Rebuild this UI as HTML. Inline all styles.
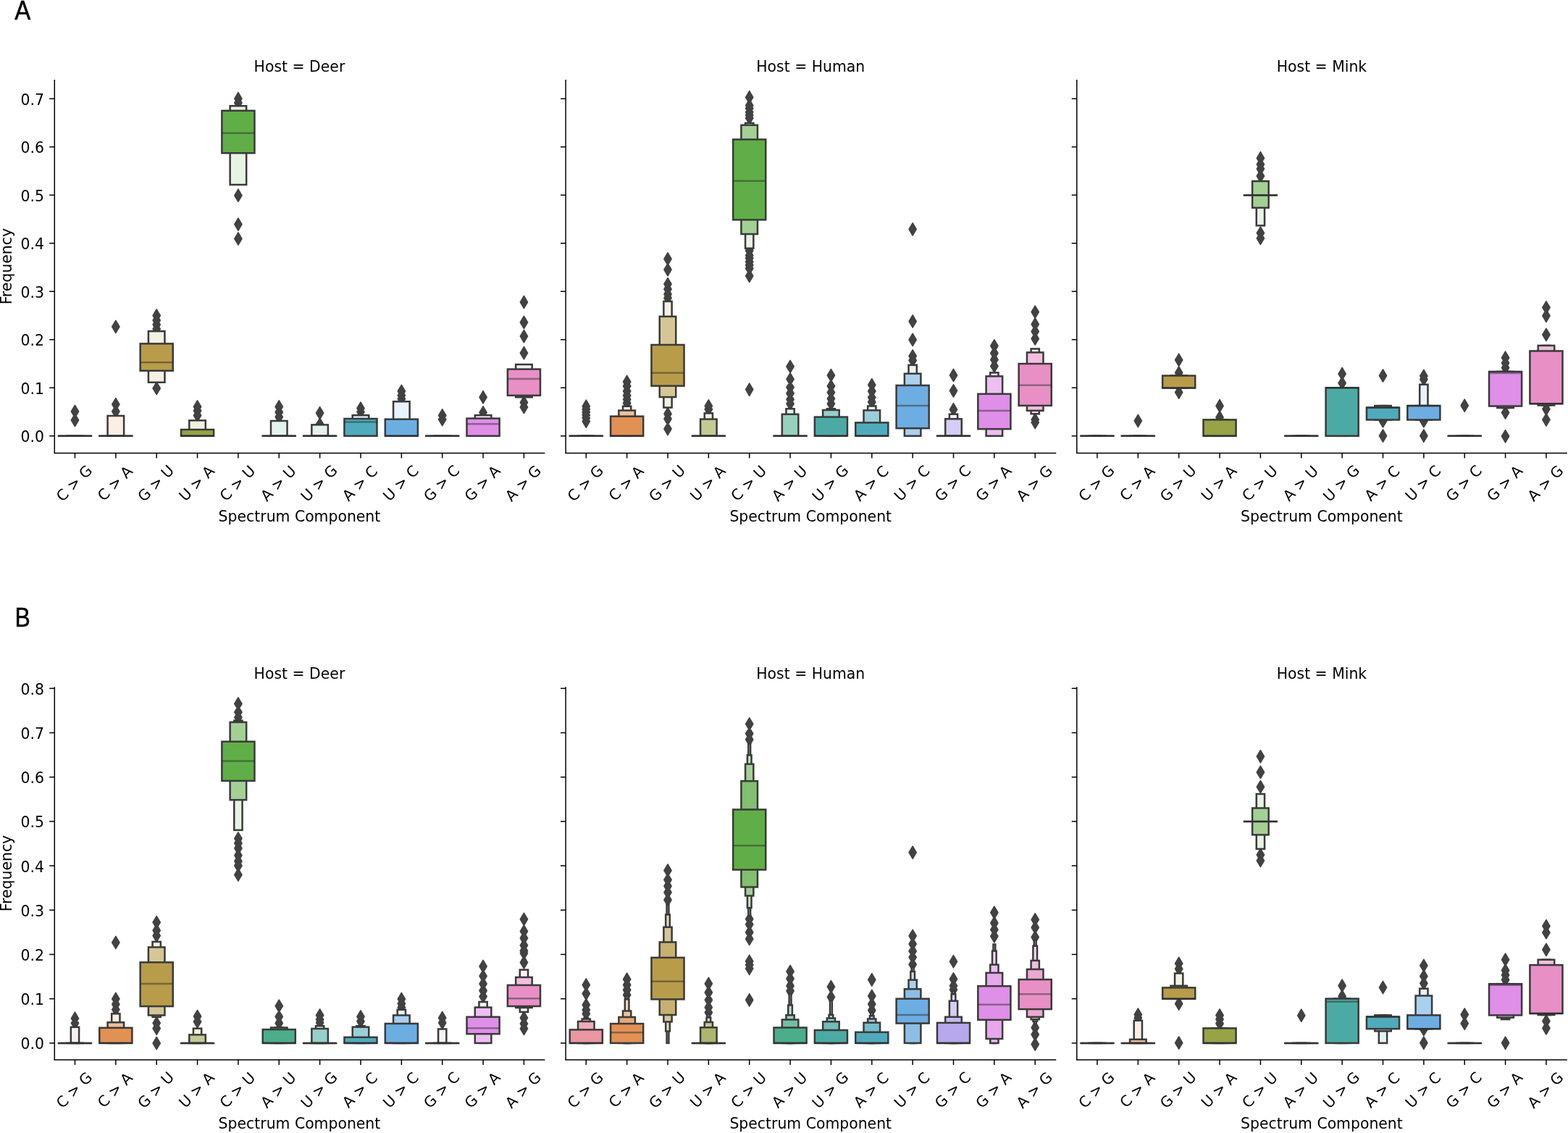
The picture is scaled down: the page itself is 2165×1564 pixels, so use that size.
<!DOCTYPE html>
<html><head><meta charset="utf-8"><title>Mutation spectrum boxen plots</title>
<style>
html,body{margin:0;padding:0;background:#fff;}
body{width:2165px;height:1564px;overflow:hidden;}
svg{display:block;}
.t{font-family:"DejaVu Sans","Liberation Sans",sans-serif;font-size:20.4px;fill:#000;}
.L{font-family:"Liberation Sans","DejaVu Sans",sans-serif;font-size:37.5px;fill:#000;stroke:#000;stroke-width:0.5px;}
.sp{stroke:#000;stroke-width:1.5;fill:none;}
</style></head><body>
<svg width="2165" height="1564" viewBox="0 0 2165 1564">
<rect width="2165" height="1564" fill="#fff"/>
<text transform="translate(20.3 26.9) scale(0.88 1)" class="L">A</text>
<text transform="translate(15.8 367.7) rotate(-90)" text-anchor="middle" class="t">Frequency</text>
<text x="413.45" y="98.6" text-anchor="middle" class="t">Host = Deer</text>
<text x="413.45" y="720.2" text-anchor="middle" class="t">Spectrum Component</text>
<path d="M103.48 559.4L108.58 568L103.48 576.6L98.38 568ZM103.48 571.4L108.58 580L103.48 588.6L98.38 580Z" fill="#424242" stroke="#424242" stroke-width="1.6" stroke-linejoin="round"/>
<line x1="92.21" x2="114.75" y1="601.8" y2="601.8" stroke="#3a3a3a" stroke-width="2.5" stroke-linecap="square"/>
<line x1="80.94" x2="126.02" y1="601.8" y2="601.8" stroke="#3a3a3a" stroke-width="2.5" stroke-linecap="square"/>
<line x1="80.94" x2="126.02" y1="601.8" y2="601.8" stroke="#262626" stroke-opacity="0.45" stroke-width="2.5"/>
<path d="M159.84 442.4L164.94 451L159.84 459.6L154.74 451ZM159.84 549.6L164.94 558.2L159.84 566.8L154.74 558.2ZM159.84 559.4L164.94 568L159.84 576.6L154.74 568Z" fill="#424242" stroke="#424242" stroke-width="1.6" stroke-linejoin="round"/>
<rect x="148.57" y="574" width="22.54" height="27.8" fill="#faeee5" stroke="#3a3a3a" stroke-width="2.5"/>
<line x1="137.29" x2="182.38" y1="601.8" y2="601.8" stroke="#3a3a3a" stroke-width="2.5" stroke-linecap="square"/>
<line x1="137.29" x2="182.38" y1="601.8" y2="601.8" stroke="#262626" stroke-opacity="0.45" stroke-width="2.5"/>
<path d="M216.2 427L221.3 435.6L216.2 444.2L211.1 435.6ZM216.2 433.5L221.3 442.1L216.2 450.7L211.1 442.1ZM216.2 439.5L221.3 448.1L216.2 456.7L211.1 448.1ZM216.2 445.5L221.3 454.1L216.2 462.7L211.1 454.1ZM216.2 527.4L221.3 536L216.2 544.6L211.1 536Z" fill="#424242" stroke="#424242" stroke-width="1.6" stroke-linejoin="round"/>
<rect x="204.92" y="457.2" width="22.54" height="70.6" fill="#f4f0e4" stroke="#3a3a3a" stroke-width="2.5"/>
<rect x="193.65" y="474.4" width="45.09" height="37.4" fill="#b89c49" stroke="#3a3a3a" stroke-width="2.5"/>
<line x1="193.65" x2="238.74" y1="500.3" y2="500.3" stroke="#262626" stroke-opacity="0.45" stroke-width="2.5"/>
<path d="M272.55 552.9L277.65 561.5L272.55 570.1L267.45 561.5ZM272.55 558.4L277.65 567L272.55 575.6L267.45 567ZM272.55 564.9L277.65 573.5L272.55 582.1L267.45 573.5Z" fill="#424242" stroke="#424242" stroke-width="1.6" stroke-linejoin="round"/>
<rect x="261.28" y="580.4" width="22.54" height="21.4" fill="#f0f1e3" stroke="#3a3a3a" stroke-width="2.5"/>
<rect x="250.01" y="593" width="45.09" height="8.8" fill="#98a246" stroke="#3a3a3a" stroke-width="2.5"/>
<line x1="250.01" x2="295.1" y1="601.8" y2="601.8" stroke="#262626" stroke-opacity="0.45" stroke-width="2.5"/>
<path d="M328.91 127.6L334.01 136.2L328.91 144.8L323.81 136.2ZM328.91 133.4L334.01 142L328.91 150.6L323.81 142ZM328.91 261.2L334.01 269.8L328.91 278.4L323.81 269.8ZM328.91 301.1L334.01 309.7L328.91 318.3L323.81 309.7ZM328.91 321L334.01 329.6L328.91 338.2L323.81 329.6Z" fill="#424242" stroke="#424242" stroke-width="1.6" stroke-linejoin="round"/>
<rect x="317.64" y="146.2" width="22.54" height="108.8" fill="#e7f3e3" stroke="#3a3a3a" stroke-width="2.5"/>
<rect x="306.37" y="152.8" width="45.09" height="58.5" fill="#60ae47" stroke="#3a3a3a" stroke-width="2.5"/>
<line x1="306.37" x2="351.46" y1="183.7" y2="183.7" stroke="#262626" stroke-opacity="0.45" stroke-width="2.5"/>
<path d="M385.27 552.9L390.37 561.5L385.27 570.1L380.17 561.5ZM385.27 560.4L390.37 569L385.27 577.6L380.17 569ZM385.27 566.9L390.37 575.5L385.27 584.1L380.17 575.5Z" fill="#424242" stroke="#424242" stroke-width="1.6" stroke-linejoin="round"/>
<rect x="374" y="581" width="22.54" height="20.8" fill="#e4f3ed" stroke="#3a3a3a" stroke-width="2.5"/>
<line x1="362.73" x2="407.81" y1="601.8" y2="601.8" stroke="#3a3a3a" stroke-width="2.5" stroke-linecap="square"/>
<line x1="362.73" x2="407.81" y1="601.8" y2="601.8" stroke="#262626" stroke-opacity="0.45" stroke-width="2.5"/>
<path d="M441.63 561.6L446.73 570.2L441.63 578.8L436.53 570.2ZM441.63 577.1L446.73 585.7L441.63 594.3L436.53 585.7Z" fill="#424242" stroke="#424242" stroke-width="1.6" stroke-linejoin="round"/>
<rect x="430.36" y="586.4" width="22.54" height="15.4" fill="#e4f2f1" stroke="#3a3a3a" stroke-width="2.5"/>
<line x1="419.09" x2="464.17" y1="601.8" y2="601.8" stroke="#3a3a3a" stroke-width="2.5" stroke-linecap="square"/>
<line x1="419.09" x2="464.17" y1="601.8" y2="601.8" stroke="#262626" stroke-opacity="0.45" stroke-width="2.5"/>
<path d="M497.99 555.1L503.09 563.7L497.99 572.3L492.89 563.7ZM497.99 560L503.09 568.6L497.99 577.2L492.89 568.6Z" fill="#424242" stroke="#424242" stroke-width="1.6" stroke-linejoin="round"/>
<rect x="486.72" y="573.2" width="22.54" height="28.6" fill="#e5f2f5" stroke="#3a3a3a" stroke-width="2.5"/>
<rect x="475.44" y="578" width="45.09" height="23.8" fill="#4fabbc" stroke="#3a3a3a" stroke-width="2.5"/>
<line x1="475.44" x2="520.53" y1="582.4" y2="582.4" stroke="#262626" stroke-opacity="0.45" stroke-width="2.5"/>
<path d="M554.35 531.4L559.45 540L554.35 548.6L549.25 540ZM554.35 537.2L559.45 545.8L554.35 554.4L549.25 545.8ZM554.35 542.1L559.45 550.7L554.35 559.3L549.25 550.7Z" fill="#424242" stroke="#424242" stroke-width="1.6" stroke-linejoin="round"/>
<rect x="543.07" y="554.3" width="22.54" height="47.5" fill="#e9f3fb" stroke="#3a3a3a" stroke-width="2.5"/>
<rect x="531.8" y="578.7" width="45.09" height="23.1" fill="#6daee2" stroke="#3a3a3a" stroke-width="2.5"/>
<line x1="531.8" x2="576.89" y1="601.8" y2="601.8" stroke="#262626" stroke-opacity="0.45" stroke-width="2.5"/>
<path d="M610.7 564.9L615.8 573.5L610.7 582.1L605.6 573.5ZM610.7 570.4L615.8 579L610.7 587.6L605.6 579Z" fill="#424242" stroke="#424242" stroke-width="1.6" stroke-linejoin="round"/>
<line x1="599.43" x2="621.98" y1="601.8" y2="601.8" stroke="#3a3a3a" stroke-width="2.5" stroke-linecap="square"/>
<line x1="588.16" x2="633.25" y1="601.8" y2="601.8" stroke="#3a3a3a" stroke-width="2.5" stroke-linecap="square"/>
<line x1="588.16" x2="633.25" y1="601.8" y2="601.8" stroke="#262626" stroke-opacity="0.45" stroke-width="2.5"/>
<path d="M667.06 539.7L672.16 548.3L667.06 556.9L661.96 548.3ZM667.06 560.8L672.16 569.4L667.06 578L661.96 569.4Z" fill="#424242" stroke="#424242" stroke-width="1.6" stroke-linejoin="round"/>
<rect x="655.79" y="573.2" width="22.54" height="28.6" fill="#faeefb" stroke="#3a3a3a" stroke-width="2.5"/>
<rect x="644.52" y="577.6" width="45.09" height="24.2" fill="#df8fe7" stroke="#3a3a3a" stroke-width="2.5"/>
<line x1="644.52" x2="689.61" y1="585.2" y2="585.2" stroke="#262626" stroke-opacity="0.45" stroke-width="2.5"/>
<path d="M723.42 408.5L728.52 417.1L723.42 425.7L718.32 417.1ZM723.42 436.4L728.52 445L723.42 453.6L718.32 445ZM723.42 455.6L728.52 464.2L723.42 472.8L718.32 464.2ZM723.42 478.7L728.52 487.3L723.42 495.9L718.32 487.3ZM723.42 547L728.52 555.6L723.42 564.2L718.32 555.6ZM723.42 553.4L728.52 562L723.42 570.6L718.32 562Z" fill="#424242" stroke="#424242" stroke-width="1.6" stroke-linejoin="round"/>
<rect x="712.15" y="503.1" width="22.54" height="45.2" fill="#fceef6" stroke="#3a3a3a" stroke-width="2.5"/>
<rect x="700.88" y="509.6" width="45.09" height="36.3" fill="#e890c6" stroke="#3a3a3a" stroke-width="2.5"/>
<line x1="700.88" x2="745.96" y1="523.1" y2="523.1" stroke="#262626" stroke-opacity="0.45" stroke-width="2.5"/>
<line x1="75.3" y1="110.1" x2="75.3" y2="625.4" class="sp"/>
<line x1="74.5" y1="625.4" x2="752.4" y2="625.4" class="sp"/>
<line x1="68.2" x2="75.3" y1="601.8" y2="601.8" class="sp"/>
<text x="60.9" y="610.2" text-anchor="end" class="t">0.0</text>
<line x1="68.2" x2="75.3" y1="535.3" y2="535.3" class="sp"/>
<text x="60.9" y="543.7" text-anchor="end" class="t">0.1</text>
<line x1="68.2" x2="75.3" y1="468.8" y2="468.8" class="sp"/>
<text x="60.9" y="477.2" text-anchor="end" class="t">0.2</text>
<line x1="68.2" x2="75.3" y1="402.3" y2="402.3" class="sp"/>
<text x="60.9" y="410.7" text-anchor="end" class="t">0.3</text>
<line x1="68.2" x2="75.3" y1="335.8" y2="335.8" class="sp"/>
<text x="60.9" y="344.2" text-anchor="end" class="t">0.4</text>
<line x1="68.2" x2="75.3" y1="269.3" y2="269.3" class="sp"/>
<text x="60.9" y="277.7" text-anchor="end" class="t">0.5</text>
<line x1="68.2" x2="75.3" y1="202.8" y2="202.8" class="sp"/>
<text x="60.9" y="211.2" text-anchor="end" class="t">0.6</text>
<line x1="68.2" x2="75.3" y1="136.3" y2="136.3" class="sp"/>
<text x="60.9" y="144.7" text-anchor="end" class="t">0.7</text>
<line x1="103.48" x2="103.48" y1="625.4" y2="632.5" class="sp"/>
<text transform="translate(102.18 666.9) rotate(-45)" x="0" y="7.45" text-anchor="middle" class="t">C &gt; G</text>
<line x1="159.84" x2="159.84" y1="625.4" y2="632.5" class="sp"/>
<text transform="translate(158.54 666.9) rotate(-45)" x="0" y="7.45" text-anchor="middle" class="t">C &gt; A</text>
<line x1="216.2" x2="216.2" y1="625.4" y2="632.5" class="sp"/>
<text transform="translate(214.9 666.9) rotate(-45)" x="0" y="7.45" text-anchor="middle" class="t">G &gt; U</text>
<line x1="272.55" x2="272.55" y1="625.4" y2="632.5" class="sp"/>
<text transform="translate(271.25 666.9) rotate(-45)" x="0" y="7.45" text-anchor="middle" class="t">U &gt; A</text>
<line x1="328.91" x2="328.91" y1="625.4" y2="632.5" class="sp"/>
<text transform="translate(327.61 666.9) rotate(-45)" x="0" y="7.45" text-anchor="middle" class="t">C &gt; U</text>
<line x1="385.27" x2="385.27" y1="625.4" y2="632.5" class="sp"/>
<text transform="translate(383.97 666.9) rotate(-45)" x="0" y="7.45" text-anchor="middle" class="t">A &gt; U</text>
<line x1="441.63" x2="441.63" y1="625.4" y2="632.5" class="sp"/>
<text transform="translate(440.33 666.9) rotate(-45)" x="0" y="7.45" text-anchor="middle" class="t">U &gt; G</text>
<line x1="497.99" x2="497.99" y1="625.4" y2="632.5" class="sp"/>
<text transform="translate(496.69 666.9) rotate(-45)" x="0" y="7.45" text-anchor="middle" class="t">A &gt; C</text>
<line x1="554.35" x2="554.35" y1="625.4" y2="632.5" class="sp"/>
<text transform="translate(553.05 666.9) rotate(-45)" x="0" y="7.45" text-anchor="middle" class="t">U &gt; C</text>
<line x1="610.7" x2="610.7" y1="625.4" y2="632.5" class="sp"/>
<text transform="translate(609.4 666.9) rotate(-45)" x="0" y="7.45" text-anchor="middle" class="t">G &gt; C</text>
<line x1="667.06" x2="667.06" y1="625.4" y2="632.5" class="sp"/>
<text transform="translate(665.76 666.9) rotate(-45)" x="0" y="7.45" text-anchor="middle" class="t">G &gt; A</text>
<line x1="723.42" x2="723.42" y1="625.4" y2="632.5" class="sp"/>
<text transform="translate(722.12 666.9) rotate(-45)" x="0" y="7.45" text-anchor="middle" class="t">A &gt; G</text>
<text x="1119.25" y="98.6" text-anchor="middle" class="t">Host = Human</text>
<text x="1119.25" y="720.2" text-anchor="middle" class="t">Spectrum Component</text>
<path d="M809.28 552.2L814.38 560.8L809.28 569.4L804.18 560.8ZM809.28 556.4L814.38 565L809.28 573.6L804.18 565ZM809.28 560.4L814.38 569L809.28 577.6L804.18 569ZM809.28 564.4L814.38 573L809.28 581.6L804.18 573ZM809.28 568.4L814.38 577L809.28 585.6L804.18 577ZM809.28 573.1L814.38 581.7L809.28 590.3L804.18 581.7Z" fill="#424242" stroke="#424242" stroke-width="1.6" stroke-linejoin="round"/>
<line x1="803.64" x2="814.92" y1="601.8" y2="601.8" stroke="#3a3a3a" stroke-width="2.5" stroke-linecap="square"/>
<line x1="798.01" x2="820.55" y1="601.8" y2="601.8" stroke="#3a3a3a" stroke-width="2.5" stroke-linecap="square"/>
<line x1="786.74" x2="831.82" y1="601.8" y2="601.8" stroke="#3a3a3a" stroke-width="2.5" stroke-linecap="square"/>
<line x1="786.74" x2="831.82" y1="601.8" y2="601.8" stroke="#262626" stroke-opacity="0.45" stroke-width="2.5"/>
<path d="M865.64 518.4L870.74 527L865.64 535.6L860.54 527ZM865.64 524.4L870.74 533L865.64 541.6L860.54 533ZM865.64 531.4L870.74 540L865.64 548.6L860.54 540ZM865.64 537.4L870.74 546L865.64 554.6L860.54 546ZM865.64 542.7L870.74 551.3L865.64 559.9L860.54 551.3ZM865.64 547.9L870.74 556.5L865.64 565.1L860.54 556.5Z" fill="#424242" stroke="#424242" stroke-width="1.6" stroke-linejoin="round"/>
<rect x="860" y="560.8" width="11.27" height="41" fill="#faeee5" stroke="#3a3a3a" stroke-width="2.5"/>
<rect x="854.37" y="566.6" width="22.54" height="35.2" fill="#eec09c" stroke="#3a3a3a" stroke-width="2.5"/>
<rect x="843.09" y="574.7" width="45.09" height="27.1" fill="#e19153" stroke="#3a3a3a" stroke-width="2.5"/>
<line x1="843.09" x2="888.18" y1="601.8" y2="601.8" stroke="#262626" stroke-opacity="0.45" stroke-width="2.5"/>
<path d="M922 348.8L927.1 357.4L922 366L916.9 357.4ZM922 363.6L927.1 372.2L922 380.8L916.9 372.2ZM922 383.6L927.1 392.2L922 400.8L916.9 392.2ZM922 390.5L927.1 399.1L922 407.7L916.9 399.1ZM922 397.5L927.1 406.1L922 414.7L916.9 406.1ZM922 402.7L927.1 411.3L922 419.9L916.9 411.3ZM922 562.7L927.1 571.3L922 579.9L916.9 571.3ZM922 569.6L927.1 578.2L922 586.8L916.9 578.2ZM922 583.5L927.1 592.1L922 600.7L916.9 592.1Z" fill="#424242" stroke="#424242" stroke-width="1.6" stroke-linejoin="round"/>
<rect x="916.36" y="416" width="11.27" height="146.6" fill="#f4f0e4" stroke="#3a3a3a" stroke-width="2.5"/>
<rect x="910.72" y="436.9" width="22.54" height="111.2" fill="#d6c696" stroke="#3a3a3a" stroke-width="2.5"/>
<rect x="899.45" y="476" width="45.09" height="56.7" fill="#b89c49" stroke="#3a3a3a" stroke-width="2.5"/>
<line x1="899.45" x2="944.54" y1="514.8" y2="514.8" stroke="#262626" stroke-opacity="0.45" stroke-width="2.5"/>
<path d="M978.35 551.9L983.45 560.5L978.35 569.1L973.25 560.5ZM978.35 556.4L983.45 565L978.35 573.6L973.25 565Z" fill="#424242" stroke="#424242" stroke-width="1.6" stroke-linejoin="round"/>
<rect x="972.72" y="570.4" width="11.27" height="31.4" fill="#f0f1e3" stroke="#3a3a3a" stroke-width="2.5"/>
<rect x="967.08" y="578.6" width="22.54" height="23.2" fill="#c4ca95" stroke="#3a3a3a" stroke-width="2.5"/>
<line x1="955.81" x2="1000.9" y1="601.8" y2="601.8" stroke="#3a3a3a" stroke-width="2.5" stroke-linecap="square"/>
<line x1="955.81" x2="1000.9" y1="601.8" y2="601.8" stroke="#262626" stroke-opacity="0.45" stroke-width="2.5"/>
<path d="M1034.71 125.7L1039.81 134.3L1034.71 142.9L1029.61 134.3ZM1034.71 137L1039.81 145.6L1034.71 154.2L1029.61 145.6ZM1034.71 141.1L1039.81 149.7L1034.71 158.3L1029.61 149.7ZM1034.71 146.2L1039.81 154.8L1034.71 163.4L1029.61 154.8ZM1034.71 150.3L1039.81 158.9L1034.71 167.5L1029.61 158.9ZM1034.71 154.4L1039.81 163L1034.71 171.6L1029.61 163ZM1034.71 337.4L1039.81 346L1034.71 354.6L1029.61 346ZM1034.71 344L1039.81 352.6L1034.71 361.2L1029.61 352.6ZM1034.71 347.9L1039.81 356.5L1034.71 365.1L1029.61 356.5ZM1034.71 352.9L1039.81 361.5L1034.71 370.1L1029.61 361.5ZM1034.71 357.4L1039.81 366L1034.71 374.6L1029.61 366ZM1034.71 361.9L1039.81 370.5L1034.71 379.1L1029.61 370.5ZM1034.71 372.3L1039.81 380.9L1034.71 389.5L1029.61 380.9ZM1034.71 529.1L1039.81 537.7L1034.71 546.3L1029.61 537.7Z" fill="#424242" stroke="#424242" stroke-width="1.6" stroke-linejoin="round"/>
<rect x="1029.08" y="169.9" width="11.27" height="172.9" fill="#e7f3e3" stroke="#3a3a3a" stroke-width="2.5"/>
<rect x="1023.44" y="172.7" width="22.54" height="150.4" fill="#a4d095" stroke="#3a3a3a" stroke-width="2.5"/>
<rect x="1012.17" y="192.5" width="45.09" height="110.9" fill="#60ae47" stroke="#3a3a3a" stroke-width="2.5"/>
<line x1="1012.17" x2="1057.26" y1="249.7" y2="249.7" stroke="#262626" stroke-opacity="0.45" stroke-width="2.5"/>
<path d="M1091.07 497.4L1096.17 506L1091.07 514.6L1085.97 506ZM1091.07 514.8L1096.17 523.4L1091.07 532L1085.97 523.4ZM1091.07 526.1L1096.17 534.7L1091.07 543.3L1085.97 534.7ZM1091.07 534.4L1096.17 543L1091.07 551.6L1085.97 543ZM1091.07 542.7L1096.17 551.3L1091.07 559.9L1085.97 551.3ZM1091.07 548.8L1096.17 557.4L1091.07 566L1085.97 557.4Z" fill="#424242" stroke="#424242" stroke-width="1.6" stroke-linejoin="round"/>
<rect x="1085.43" y="564.3" width="11.27" height="37.5" fill="#e4f3ed" stroke="#3a3a3a" stroke-width="2.5"/>
<rect x="1079.8" y="571.8" width="22.54" height="30" fill="#97d0bc" stroke="#3a3a3a" stroke-width="2.5"/>
<line x1="1068.53" x2="1113.61" y1="601.8" y2="601.8" stroke="#3a3a3a" stroke-width="2.5" stroke-linecap="square"/>
<line x1="1068.53" x2="1113.61" y1="601.8" y2="601.8" stroke="#262626" stroke-opacity="0.45" stroke-width="2.5"/>
<path d="M1147.43 509.6L1152.53 518.2L1147.43 526.8L1142.33 518.2ZM1147.43 524.4L1152.53 533L1147.43 541.6L1142.33 533ZM1147.43 533.1L1152.53 541.7L1147.43 550.3L1142.33 541.7ZM1147.43 541.8L1152.53 550.4L1147.43 559L1142.33 550.4ZM1147.43 548.8L1152.53 557.4L1147.43 566L1142.33 557.4Z" fill="#424242" stroke="#424242" stroke-width="1.6" stroke-linejoin="round"/>
<rect x="1141.79" y="564.3" width="11.27" height="37.5" fill="#e4f2f1" stroke="#3a3a3a" stroke-width="2.5"/>
<rect x="1136.16" y="566" width="22.54" height="35.8" fill="#98cfcb" stroke="#3a3a3a" stroke-width="2.5"/>
<rect x="1124.89" y="575.6" width="45.09" height="26.2" fill="#4baba4" stroke="#3a3a3a" stroke-width="2.5"/>
<line x1="1124.89" x2="1169.97" y1="601.8" y2="601.8" stroke="#262626" stroke-opacity="0.45" stroke-width="2.5"/>
<path d="M1203.79 522.7L1208.89 531.3L1203.79 539.9L1198.69 531.3ZM1203.79 531.4L1208.89 540L1203.79 548.6L1198.69 540ZM1203.79 540.1L1208.89 548.7L1203.79 557.3L1198.69 548.7ZM1203.79 546.4L1208.89 555L1203.79 563.6L1198.69 555Z" fill="#424242" stroke="#424242" stroke-width="1.6" stroke-linejoin="round"/>
<rect x="1198.15" y="560.5" width="11.27" height="41.3" fill="#e5f2f5" stroke="#3a3a3a" stroke-width="2.5"/>
<rect x="1192.52" y="566.4" width="22.54" height="35.4" fill="#9acfd8" stroke="#3a3a3a" stroke-width="2.5"/>
<rect x="1181.24" y="583.4" width="45.09" height="18.4" fill="#4fabbc" stroke="#3a3a3a" stroke-width="2.5"/>
<line x1="1181.24" x2="1226.33" y1="601.8" y2="601.8" stroke="#262626" stroke-opacity="0.45" stroke-width="2.5"/>
<path d="M1260.15 307.8L1265.25 316.4L1260.15 325L1255.05 316.4ZM1260.15 435L1265.25 443.6L1260.15 452.2L1255.05 443.6ZM1260.15 460.4L1265.25 469L1260.15 477.6L1255.05 469ZM1260.15 482.9L1265.25 491.5L1260.15 500.1L1255.05 491.5ZM1260.15 488.9L1265.25 497.5L1260.15 506.1L1255.05 497.5Z" fill="#424242" stroke="#424242" stroke-width="1.6" stroke-linejoin="round"/>
<rect x="1254.51" y="503.9" width="11.27" height="97.9" fill="#e9f3fb" stroke="#3a3a3a" stroke-width="2.5"/>
<rect x="1248.87" y="515.8" width="22.54" height="86" fill="#abd0ee" stroke="#3a3a3a" stroke-width="2.5"/>
<rect x="1237.6" y="532" width="45.09" height="59.2" fill="#6daee2" stroke="#3a3a3a" stroke-width="2.5"/>
<line x1="1237.6" x2="1282.69" y1="559.9" y2="559.9" stroke="#262626" stroke-opacity="0.45" stroke-width="2.5"/>
<path d="M1316.5 509.4L1321.6 518L1316.5 526.6L1311.4 518ZM1316.5 530.8L1321.6 539.4L1316.5 548L1311.4 539.4ZM1316.5 556.7L1321.6 565.3L1316.5 573.9L1311.4 565.3Z" fill="#424242" stroke="#424242" stroke-width="1.6" stroke-linejoin="round"/>
<rect x="1310.87" y="571.7" width="11.27" height="30.1" fill="#f4f2fc" stroke="#3a3a3a" stroke-width="2.5"/>
<rect x="1305.23" y="578.3" width="22.54" height="23.5" fill="#d5cdf4" stroke="#3a3a3a" stroke-width="2.5"/>
<line x1="1293.96" x2="1339.05" y1="601.8" y2="601.8" stroke="#3a3a3a" stroke-width="2.5" stroke-linecap="square"/>
<line x1="1293.96" x2="1339.05" y1="601.8" y2="601.8" stroke="#262626" stroke-opacity="0.45" stroke-width="2.5"/>
<path d="M1372.86 468.9L1377.96 477.5L1372.86 486.1L1367.76 477.5ZM1372.86 478.9L1377.96 487.5L1372.86 496.1L1367.76 487.5ZM1372.86 487.9L1377.96 496.5L1372.86 505.1L1367.76 496.5ZM1372.86 496.9L1377.96 505.5L1372.86 514.1L1367.76 505.5Z" fill="#424242" stroke="#424242" stroke-width="1.6" stroke-linejoin="round"/>
<rect x="1367.23" y="514.4" width="11.27" height="87.4" fill="#faeefb" stroke="#3a3a3a" stroke-width="2.5"/>
<rect x="1361.59" y="519.4" width="22.54" height="82.4" fill="#edbff1" stroke="#3a3a3a" stroke-width="2.5"/>
<rect x="1350.32" y="543.8" width="45.09" height="48.4" fill="#df8fe7" stroke="#3a3a3a" stroke-width="2.5"/>
<line x1="1350.32" x2="1395.41" y1="566.9" y2="566.9" stroke="#262626" stroke-opacity="0.45" stroke-width="2.5"/>
<path d="M1429.22 422.1L1434.32 430.7L1429.22 439.3L1424.12 430.7ZM1429.22 439L1434.32 447.6L1429.22 456.2L1424.12 447.6ZM1429.22 449L1434.32 457.6L1429.22 466.2L1424.12 457.6ZM1429.22 459L1434.32 467.6L1429.22 476.2L1424.12 467.6ZM1429.22 570.7L1434.32 579.3L1429.22 587.9L1424.12 579.3ZM1429.22 574.4L1434.32 583L1429.22 591.6L1424.12 583Z" fill="#424242" stroke="#424242" stroke-width="1.6" stroke-linejoin="round"/>
<rect x="1423.59" y="481.5" width="11.27" height="89.8" fill="#fceef6" stroke="#3a3a3a" stroke-width="2.5"/>
<rect x="1417.95" y="486.5" width="22.54" height="80.4" fill="#f2bfde" stroke="#3a3a3a" stroke-width="2.5"/>
<rect x="1406.68" y="502.1" width="45.09" height="57.8" fill="#e890c6" stroke="#3a3a3a" stroke-width="2.5"/>
<line x1="1406.68" x2="1451.76" y1="531.8" y2="531.8" stroke="#262626" stroke-opacity="0.45" stroke-width="2.5"/>
<line x1="781.1" y1="110.1" x2="781.1" y2="625.4" class="sp"/>
<line x1="780.3" y1="625.4" x2="1458.2" y2="625.4" class="sp"/>
<line x1="774" x2="781.1" y1="601.8" y2="601.8" class="sp"/>
<line x1="774" x2="781.1" y1="535.3" y2="535.3" class="sp"/>
<line x1="774" x2="781.1" y1="468.8" y2="468.8" class="sp"/>
<line x1="774" x2="781.1" y1="402.3" y2="402.3" class="sp"/>
<line x1="774" x2="781.1" y1="335.8" y2="335.8" class="sp"/>
<line x1="774" x2="781.1" y1="269.3" y2="269.3" class="sp"/>
<line x1="774" x2="781.1" y1="202.8" y2="202.8" class="sp"/>
<line x1="774" x2="781.1" y1="136.3" y2="136.3" class="sp"/>
<line x1="809.28" x2="809.28" y1="625.4" y2="632.5" class="sp"/>
<text transform="translate(807.98 666.9) rotate(-45)" x="0" y="7.45" text-anchor="middle" class="t">C &gt; G</text>
<line x1="865.64" x2="865.64" y1="625.4" y2="632.5" class="sp"/>
<text transform="translate(864.34 666.9) rotate(-45)" x="0" y="7.45" text-anchor="middle" class="t">C &gt; A</text>
<line x1="922" x2="922" y1="625.4" y2="632.5" class="sp"/>
<text transform="translate(920.7 666.9) rotate(-45)" x="0" y="7.45" text-anchor="middle" class="t">G &gt; U</text>
<line x1="978.35" x2="978.35" y1="625.4" y2="632.5" class="sp"/>
<text transform="translate(977.05 666.9) rotate(-45)" x="0" y="7.45" text-anchor="middle" class="t">U &gt; A</text>
<line x1="1034.71" x2="1034.71" y1="625.4" y2="632.5" class="sp"/>
<text transform="translate(1033.41 666.9) rotate(-45)" x="0" y="7.45" text-anchor="middle" class="t">C &gt; U</text>
<line x1="1091.07" x2="1091.07" y1="625.4" y2="632.5" class="sp"/>
<text transform="translate(1089.77 666.9) rotate(-45)" x="0" y="7.45" text-anchor="middle" class="t">A &gt; U</text>
<line x1="1147.43" x2="1147.43" y1="625.4" y2="632.5" class="sp"/>
<text transform="translate(1146.13 666.9) rotate(-45)" x="0" y="7.45" text-anchor="middle" class="t">U &gt; G</text>
<line x1="1203.79" x2="1203.79" y1="625.4" y2="632.5" class="sp"/>
<text transform="translate(1202.49 666.9) rotate(-45)" x="0" y="7.45" text-anchor="middle" class="t">A &gt; C</text>
<line x1="1260.15" x2="1260.15" y1="625.4" y2="632.5" class="sp"/>
<text transform="translate(1258.85 666.9) rotate(-45)" x="0" y="7.45" text-anchor="middle" class="t">U &gt; C</text>
<line x1="1316.5" x2="1316.5" y1="625.4" y2="632.5" class="sp"/>
<text transform="translate(1315.2 666.9) rotate(-45)" x="0" y="7.45" text-anchor="middle" class="t">G &gt; C</text>
<line x1="1372.86" x2="1372.86" y1="625.4" y2="632.5" class="sp"/>
<text transform="translate(1371.56 666.9) rotate(-45)" x="0" y="7.45" text-anchor="middle" class="t">G &gt; A</text>
<line x1="1429.22" x2="1429.22" y1="625.4" y2="632.5" class="sp"/>
<text transform="translate(1427.92 666.9) rotate(-45)" x="0" y="7.45" text-anchor="middle" class="t">A &gt; G</text>
<text x="1824.95" y="98.6" text-anchor="middle" class="t">Host = Mink</text>
<text x="1824.95" y="720.2" text-anchor="middle" class="t">Spectrum Component</text>
<line x1="1509.34" x2="1520.61" y1="601.8" y2="601.8" stroke="#3a3a3a" stroke-width="2.5" stroke-linecap="square"/>
<line x1="1503.71" x2="1526.25" y1="601.8" y2="601.8" stroke="#3a3a3a" stroke-width="2.5" stroke-linecap="square"/>
<line x1="1492.44" x2="1537.52" y1="601.8" y2="601.8" stroke="#3a3a3a" stroke-width="2.5" stroke-linecap="square"/>
<line x1="1492.44" x2="1537.52" y1="601.8" y2="601.8" stroke="#262626" stroke-opacity="0.45" stroke-width="2.5"/>
<path d="M1571.34 572.3L1576.44 580.9L1571.34 589.5L1566.24 580.9Z" fill="#424242" stroke="#424242" stroke-width="1.6" stroke-linejoin="round"/>
<line x1="1565.7" x2="1576.97" y1="601.8" y2="601.8" stroke="#3a3a3a" stroke-width="2.5" stroke-linecap="square"/>
<line x1="1560.07" x2="1582.61" y1="601.8" y2="601.8" stroke="#3a3a3a" stroke-width="2.5" stroke-linecap="square"/>
<line x1="1548.79" x2="1593.88" y1="601.8" y2="601.8" stroke="#3a3a3a" stroke-width="2.5" stroke-linecap="square"/>
<line x1="1548.79" x2="1593.88" y1="601.8" y2="601.8" stroke="#262626" stroke-opacity="0.45" stroke-width="2.5"/>
<path d="M1627.7 488.3L1632.8 496.9L1627.7 505.5L1622.6 496.9ZM1627.7 506L1632.8 514.6L1627.7 523.2L1622.6 514.6ZM1627.7 533L1632.8 541.6L1627.7 550.2L1622.6 541.6Z" fill="#424242" stroke="#424242" stroke-width="1.6" stroke-linejoin="round"/>
<rect x="1622.06" y="518.6" width="11.27" height="17" fill="#f4f0e4" stroke="#3a3a3a" stroke-width="2.5"/>
<rect x="1616.42" y="518.6" width="22.54" height="17" fill="#d6c696" stroke="#3a3a3a" stroke-width="2.5"/>
<rect x="1605.15" y="518.6" width="45.09" height="17" fill="#b89c49" stroke="#3a3a3a" stroke-width="2.5"/>
<line x1="1605.15" x2="1650.24" y1="535.6" y2="535.6" stroke="#262626" stroke-opacity="0.45" stroke-width="2.5"/>
<path d="M1684.05 551.7L1689.15 560.3L1684.05 568.9L1678.95 560.3ZM1684.05 567.5L1689.15 576.1L1684.05 584.7L1678.95 576.1Z" fill="#424242" stroke="#424242" stroke-width="1.6" stroke-linejoin="round"/>
<rect x="1678.42" y="579.4" width="11.27" height="22.4" fill="#f0f1e3" stroke="#3a3a3a" stroke-width="2.5"/>
<rect x="1672.78" y="579.4" width="22.54" height="22.4" fill="#c4ca95" stroke="#3a3a3a" stroke-width="2.5"/>
<rect x="1661.51" y="579.4" width="45.09" height="22.4" fill="#98a246" stroke="#3a3a3a" stroke-width="2.5"/>
<line x1="1661.51" x2="1706.6" y1="601.8" y2="601.8" stroke="#262626" stroke-opacity="0.45" stroke-width="2.5"/>
<path d="M1740.41 209.7L1745.51 218.3L1740.41 226.9L1735.31 218.3ZM1740.41 218.2L1745.51 226.8L1740.41 235.4L1735.31 226.8ZM1740.41 224.5L1745.51 233.1L1740.41 241.7L1735.31 233.1ZM1740.41 234.4L1745.51 243L1740.41 251.6L1735.31 243ZM1740.41 313.1L1745.51 321.7L1740.41 330.3L1735.31 321.7ZM1740.41 320.3L1745.51 328.9L1740.41 337.5L1735.31 328.9Z" fill="#424242" stroke="#424242" stroke-width="1.6" stroke-linejoin="round"/>
<rect x="1734.78" y="250.1" width="11.27" height="61.3" fill="#e7f3e3" stroke="#3a3a3a" stroke-width="2.5"/>
<rect x="1729.14" y="250.1" width="22.54" height="36.7" fill="#a4d095" stroke="#3a3a3a" stroke-width="2.5"/>
<line x1="1717.87" x2="1762.96" y1="269.4" y2="269.4" stroke="#3a3a3a" stroke-width="2.5" stroke-linecap="square"/>
<line x1="1717.87" x2="1762.96" y1="269.4" y2="269.4" stroke="#262626" stroke-opacity="0.45" stroke-width="2.5"/>
<line x1="1791.13" x2="1802.41" y1="601.8" y2="601.8" stroke="#3a3a3a" stroke-width="2.5" stroke-linecap="square"/>
<line x1="1785.5" x2="1808.04" y1="601.8" y2="601.8" stroke="#3a3a3a" stroke-width="2.5" stroke-linecap="square"/>
<line x1="1774.23" x2="1819.31" y1="601.8" y2="601.8" stroke="#3a3a3a" stroke-width="2.5" stroke-linecap="square"/>
<line x1="1774.23" x2="1819.31" y1="601.8" y2="601.8" stroke="#262626" stroke-opacity="0.45" stroke-width="2.5"/>
<path d="M1853.13 507.5L1858.23 516.1L1853.13 524.7L1848.03 516.1ZM1853.13 520.2L1858.23 528.8L1853.13 537.4L1848.03 528.8Z" fill="#424242" stroke="#424242" stroke-width="1.6" stroke-linejoin="round"/>
<rect x="1847.49" y="535.3" width="11.27" height="66.5" fill="#e4f2f1" stroke="#3a3a3a" stroke-width="2.5"/>
<rect x="1841.86" y="535.3" width="22.54" height="66.5" fill="#98cfcb" stroke="#3a3a3a" stroke-width="2.5"/>
<rect x="1830.59" y="535.3" width="45.09" height="66.5" fill="#4baba4" stroke="#3a3a3a" stroke-width="2.5"/>
<line x1="1830.59" x2="1875.67" y1="535.3" y2="535.3" stroke="#262626" stroke-opacity="0.45" stroke-width="2.5"/>
<path d="M1909.49 510L1914.59 518.6L1909.49 527.2L1904.39 518.6ZM1909.49 572.7L1914.59 581.3L1909.49 589.9L1904.39 581.3ZM1909.49 593L1914.59 601.6L1909.49 610.2L1904.39 601.6Z" fill="#424242" stroke="#424242" stroke-width="1.6" stroke-linejoin="round"/>
<rect x="1903.85" y="560.1" width="11.27" height="19.4" fill="#e5f2f5" stroke="#3a3a3a" stroke-width="2.5"/>
<rect x="1898.22" y="560.1" width="22.54" height="19.4" fill="#9acfd8" stroke="#3a3a3a" stroke-width="2.5"/>
<rect x="1886.94" y="562.6" width="45.09" height="16.9" fill="#4fabbc" stroke="#3a3a3a" stroke-width="2.5"/>
<line x1="1886.94" x2="1932.03" y1="562.6" y2="562.6" stroke="#262626" stroke-opacity="0.45" stroke-width="2.5"/>
<path d="M1965.85 510.4L1970.95 519L1965.85 527.6L1960.75 519ZM1965.85 515L1970.95 523.6L1965.85 532.2L1960.75 523.6ZM1965.85 572.7L1970.95 581.3L1965.85 589.9L1960.75 581.3ZM1965.85 593L1970.95 601.6L1965.85 610.2L1960.75 601.6Z" fill="#424242" stroke="#424242" stroke-width="1.6" stroke-linejoin="round"/>
<rect x="1960.21" y="530.8" width="11.27" height="48.7" fill="#e9f3fb" stroke="#3a3a3a" stroke-width="2.5"/>
<rect x="1954.57" y="560.1" width="22.54" height="19.4" fill="#abd0ee" stroke="#3a3a3a" stroke-width="2.5"/>
<rect x="1943.3" y="560.1" width="45.09" height="19.4" fill="#6daee2" stroke="#3a3a3a" stroke-width="2.5"/>
<line x1="1943.3" x2="1988.39" y1="560.1" y2="560.1" stroke="#262626" stroke-opacity="0.45" stroke-width="2.5"/>
<path d="M2022.2 551.2L2027.3 559.8L2022.2 568.4L2017.1 559.8Z" fill="#424242" stroke="#424242" stroke-width="1.6" stroke-linejoin="round"/>
<line x1="2016.57" x2="2027.84" y1="601.8" y2="601.8" stroke="#3a3a3a" stroke-width="2.5" stroke-linecap="square"/>
<line x1="2010.93" x2="2033.48" y1="601.8" y2="601.8" stroke="#3a3a3a" stroke-width="2.5" stroke-linecap="square"/>
<line x1="1999.66" x2="2044.75" y1="601.8" y2="601.8" stroke="#3a3a3a" stroke-width="2.5" stroke-linecap="square"/>
<line x1="1999.66" x2="2044.75" y1="601.8" y2="601.8" stroke="#262626" stroke-opacity="0.45" stroke-width="2.5"/>
<path d="M2078.56 485.2L2083.66 493.8L2078.56 502.4L2073.46 493.8ZM2078.56 492.5L2083.66 501.1L2078.56 509.7L2073.46 501.1ZM2078.56 499L2083.66 507.6L2078.56 516.2L2073.46 507.6ZM2078.56 561L2083.66 569.6L2078.56 578.2L2073.46 569.6ZM2078.56 593.6L2083.66 602.2L2078.56 610.8L2073.46 602.2Z" fill="#424242" stroke="#424242" stroke-width="1.6" stroke-linejoin="round"/>
<rect x="2072.93" y="513" width="11.27" height="50" fill="#faeefb" stroke="#3a3a3a" stroke-width="2.5"/>
<rect x="2067.29" y="513" width="22.54" height="50" fill="#edbff1" stroke="#3a3a3a" stroke-width="2.5"/>
<rect x="2056.02" y="513" width="45.09" height="47.6" fill="#df8fe7" stroke="#3a3a3a" stroke-width="2.5"/>
<line x1="2056.02" x2="2101.11" y1="515" y2="515" stroke="#262626" stroke-opacity="0.45" stroke-width="2.5"/>
<path d="M2134.92 415.9L2140.02 424.5L2134.92 433.1L2129.82 424.5ZM2134.92 427.3L2140.02 435.9L2134.92 444.5L2129.82 435.9ZM2134.92 453.4L2140.02 462L2134.92 470.6L2129.82 462ZM2134.92 556.1L2140.02 564.7L2134.92 573.3L2129.82 564.7ZM2134.92 570.8L2140.02 579.4L2134.92 588L2129.82 579.4Z" fill="#424242" stroke="#424242" stroke-width="1.6" stroke-linejoin="round"/>
<rect x="2129.28" y="477" width="11.27" height="82.5" fill="#fceef6" stroke="#3a3a3a" stroke-width="2.5"/>
<rect x="2123.65" y="477" width="22.54" height="82.5" fill="#f2bfde" stroke="#3a3a3a" stroke-width="2.5"/>
<rect x="2112.38" y="484.5" width="45.09" height="72.8" fill="#e890c6" stroke="#3a3a3a" stroke-width="2.5"/>
<line x1="2112.38" x2="2157.46" y1="557.3" y2="557.3" stroke="#262626" stroke-opacity="0.45" stroke-width="2.5"/>
<line x1="1486.8" y1="110.1" x2="1486.8" y2="625.4" class="sp"/>
<line x1="1486" y1="625.4" x2="2163.9" y2="625.4" class="sp"/>
<line x1="1479.7" x2="1486.8" y1="601.8" y2="601.8" class="sp"/>
<line x1="1479.7" x2="1486.8" y1="535.3" y2="535.3" class="sp"/>
<line x1="1479.7" x2="1486.8" y1="468.8" y2="468.8" class="sp"/>
<line x1="1479.7" x2="1486.8" y1="402.3" y2="402.3" class="sp"/>
<line x1="1479.7" x2="1486.8" y1="335.8" y2="335.8" class="sp"/>
<line x1="1479.7" x2="1486.8" y1="269.3" y2="269.3" class="sp"/>
<line x1="1479.7" x2="1486.8" y1="202.8" y2="202.8" class="sp"/>
<line x1="1479.7" x2="1486.8" y1="136.3" y2="136.3" class="sp"/>
<line x1="1514.98" x2="1514.98" y1="625.4" y2="632.5" class="sp"/>
<text transform="translate(1513.68 666.9) rotate(-45)" x="0" y="7.45" text-anchor="middle" class="t">C &gt; G</text>
<line x1="1571.34" x2="1571.34" y1="625.4" y2="632.5" class="sp"/>
<text transform="translate(1570.04 666.9) rotate(-45)" x="0" y="7.45" text-anchor="middle" class="t">C &gt; A</text>
<line x1="1627.7" x2="1627.7" y1="625.4" y2="632.5" class="sp"/>
<text transform="translate(1626.4 666.9) rotate(-45)" x="0" y="7.45" text-anchor="middle" class="t">G &gt; U</text>
<line x1="1684.05" x2="1684.05" y1="625.4" y2="632.5" class="sp"/>
<text transform="translate(1682.75 666.9) rotate(-45)" x="0" y="7.45" text-anchor="middle" class="t">U &gt; A</text>
<line x1="1740.41" x2="1740.41" y1="625.4" y2="632.5" class="sp"/>
<text transform="translate(1739.11 666.9) rotate(-45)" x="0" y="7.45" text-anchor="middle" class="t">C &gt; U</text>
<line x1="1796.77" x2="1796.77" y1="625.4" y2="632.5" class="sp"/>
<text transform="translate(1795.47 666.9) rotate(-45)" x="0" y="7.45" text-anchor="middle" class="t">A &gt; U</text>
<line x1="1853.13" x2="1853.13" y1="625.4" y2="632.5" class="sp"/>
<text transform="translate(1851.83 666.9) rotate(-45)" x="0" y="7.45" text-anchor="middle" class="t">U &gt; G</text>
<line x1="1909.49" x2="1909.49" y1="625.4" y2="632.5" class="sp"/>
<text transform="translate(1908.19 666.9) rotate(-45)" x="0" y="7.45" text-anchor="middle" class="t">A &gt; C</text>
<line x1="1965.85" x2="1965.85" y1="625.4" y2="632.5" class="sp"/>
<text transform="translate(1964.55 666.9) rotate(-45)" x="0" y="7.45" text-anchor="middle" class="t">U &gt; C</text>
<line x1="2022.2" x2="2022.2" y1="625.4" y2="632.5" class="sp"/>
<text transform="translate(2020.9 666.9) rotate(-45)" x="0" y="7.45" text-anchor="middle" class="t">G &gt; C</text>
<line x1="2078.56" x2="2078.56" y1="625.4" y2="632.5" class="sp"/>
<text transform="translate(2077.26 666.9) rotate(-45)" x="0" y="7.45" text-anchor="middle" class="t">G &gt; A</text>
<line x1="2134.92" x2="2134.92" y1="625.4" y2="632.5" class="sp"/>
<text transform="translate(2133.62 666.9) rotate(-45)" x="0" y="7.45" text-anchor="middle" class="t">A &gt; G</text>
<text transform="translate(20.5 864.9) scale(0.85 1)" class="L">B</text>
<text transform="translate(15.8 1205.5) rotate(-90)" text-anchor="middle" class="t">Frequency</text>
<text x="413.45" y="936.7" text-anchor="middle" class="t">Host = Deer</text>
<text x="413.45" y="1558.3" text-anchor="middle" class="t">Spectrum Component</text>
<path d="M103.48 1397.2L108.58 1405.8L103.48 1414.4L98.38 1405.8ZM103.48 1403.7L108.58 1412.3L103.48 1420.9L98.38 1412.3Z" fill="#424242" stroke="#424242" stroke-width="1.6" stroke-linejoin="round"/>
<rect x="97.84" y="1417.8" width="11.27" height="22.1" fill="#fceff1" stroke="#3a3a3a" stroke-width="2.5"/>
<line x1="92.21" x2="114.75" y1="1439.9" y2="1439.9" stroke="#3a3a3a" stroke-width="2.5" stroke-linecap="square"/>
<line x1="80.94" x2="126.02" y1="1439.9" y2="1439.9" stroke="#3a3a3a" stroke-width="2.5" stroke-linecap="square"/>
<line x1="80.94" x2="126.02" y1="1439.9" y2="1439.9" stroke="#262626" stroke-opacity="0.45" stroke-width="2.5"/>
<path d="M159.84 1292.4L164.94 1301L159.84 1309.6L154.74 1301ZM159.84 1370.3L164.94 1378.9L159.84 1387.5L154.74 1378.9ZM159.84 1377.7L164.94 1386.3L159.84 1394.9L154.74 1386.3ZM159.84 1385.1L164.94 1393.7L159.84 1402.3L154.74 1393.7Z" fill="#424242" stroke="#424242" stroke-width="1.6" stroke-linejoin="round"/>
<rect x="154.2" y="1399.3" width="11.27" height="40.6" fill="#faeee5" stroke="#3a3a3a" stroke-width="2.5"/>
<rect x="148.57" y="1411.3" width="22.54" height="28.6" fill="#eec09c" stroke="#3a3a3a" stroke-width="2.5"/>
<rect x="137.29" y="1418.8" width="45.09" height="21.1" fill="#e19153" stroke="#3a3a3a" stroke-width="2.5"/>
<line x1="137.29" x2="182.38" y1="1439.9" y2="1439.9" stroke="#262626" stroke-opacity="0.45" stroke-width="2.5"/>
<path d="M216.2 1264.6L221.3 1273.2L216.2 1281.8L211.1 1273.2ZM216.2 1275.7L221.3 1284.3L216.2 1292.9L211.1 1284.3ZM216.2 1283.1L221.3 1291.7L216.2 1300.3L211.1 1291.7ZM216.2 1403.7L221.3 1412.3L216.2 1420.9L211.1 1412.3ZM216.2 1411.1L221.3 1419.7L216.2 1428.3L211.1 1419.7ZM216.2 1431.5L221.3 1440.1L216.2 1448.7L211.1 1440.1Z" fill="#424242" stroke="#424242" stroke-width="1.6" stroke-linejoin="round"/>
<rect x="210.56" y="1300" width="11.27" height="103.9" fill="#f4f0e4" stroke="#3a3a3a" stroke-width="2.5"/>
<rect x="204.92" y="1307.5" width="22.54" height="94" fill="#d6c696" stroke="#3a3a3a" stroke-width="2.5"/>
<rect x="193.65" y="1328.4" width="45.09" height="60.7" fill="#b89c49" stroke="#3a3a3a" stroke-width="2.5"/>
<line x1="193.65" x2="238.74" y1="1358.1" y2="1358.1" stroke="#262626" stroke-opacity="0.45" stroke-width="2.5"/>
<path d="M272.55 1394.4L277.65 1403L272.55 1411.6L267.45 1403ZM272.55 1401.8L277.65 1410.4L272.55 1419L267.45 1410.4Z" fill="#424242" stroke="#424242" stroke-width="1.6" stroke-linejoin="round"/>
<rect x="266.92" y="1419.7" width="11.27" height="20.2" fill="#f0f1e3" stroke="#3a3a3a" stroke-width="2.5"/>
<rect x="261.28" y="1428.4" width="22.54" height="11.5" fill="#c4ca95" stroke="#3a3a3a" stroke-width="2.5"/>
<line x1="250.01" x2="295.1" y1="1439.9" y2="1439.9" stroke="#3a3a3a" stroke-width="2.5" stroke-linecap="square"/>
<line x1="250.01" x2="295.1" y1="1439.9" y2="1439.9" stroke="#262626" stroke-opacity="0.45" stroke-width="2.5"/>
<path d="M328.91 962.9L334.01 971.5L328.91 980.1L323.81 971.5ZM328.91 974.5L334.01 983.1L328.91 991.7L323.81 983.1ZM328.91 981.7L334.01 990.3L328.91 998.9L323.81 990.3ZM328.91 1148.9L334.01 1157.5L328.91 1166.1L323.81 1157.5ZM328.91 1155.4L334.01 1164L328.91 1172.6L323.81 1164ZM328.91 1162.3L334.01 1170.9L328.91 1179.5L323.81 1170.9ZM328.91 1172.2L334.01 1180.8L328.91 1189.4L323.81 1180.8ZM328.91 1180.2L334.01 1188.8L328.91 1197.4L323.81 1188.8ZM328.91 1186.4L334.01 1195L328.91 1203.6L323.81 1195ZM328.91 1199L334.01 1207.6L328.91 1216.2L323.81 1207.6Z" fill="#424242" stroke="#424242" stroke-width="1.6" stroke-linejoin="round"/>
<rect x="323.28" y="994.7" width="11.27" height="151.2" fill="#e7f3e3" stroke="#3a3a3a" stroke-width="2.5"/>
<rect x="317.64" y="996.9" width="22.54" height="107.3" fill="#a4d095" stroke="#3a3a3a" stroke-width="2.5"/>
<rect x="306.37" y="1023.7" width="45.09" height="54.2" fill="#60ae47" stroke="#3a3a3a" stroke-width="2.5"/>
<line x1="306.37" x2="351.46" y1="1050.5" y2="1050.5" stroke="#262626" stroke-opacity="0.45" stroke-width="2.5"/>
<path d="M385.27 1380.1L390.37 1388.7L385.27 1397.3L380.17 1388.7ZM385.27 1394.8L390.37 1403.4L385.27 1412L380.17 1403.4ZM385.27 1403.8L390.37 1412.4L385.27 1421L380.17 1412.4Z" fill="#424242" stroke="#424242" stroke-width="1.6" stroke-linejoin="round"/>
<rect x="379.63" y="1418.5" width="11.27" height="21.4" fill="#e4f3ed" stroke="#3a3a3a" stroke-width="2.5"/>
<rect x="374" y="1418.5" width="22.54" height="21.4" fill="#97d0bc" stroke="#3a3a3a" stroke-width="2.5"/>
<rect x="362.73" y="1421.1" width="45.09" height="18.8" fill="#4aae8a" stroke="#3a3a3a" stroke-width="2.5"/>
<line x1="362.73" x2="407.81" y1="1439.9" y2="1439.9" stroke="#262626" stroke-opacity="0.45" stroke-width="2.5"/>
<path d="M441.63 1392.9L446.73 1401.5L441.63 1410.1L436.53 1401.5ZM441.63 1398.7L446.73 1407.3L441.63 1415.9L436.53 1407.3ZM441.63 1403.1L446.73 1411.7L441.63 1420.3L436.53 1411.7Z" fill="#424242" stroke="#424242" stroke-width="1.6" stroke-linejoin="round"/>
<rect x="435.99" y="1416.2" width="11.27" height="23.7" fill="#e4f2f1" stroke="#3a3a3a" stroke-width="2.5"/>
<rect x="430.36" y="1420" width="22.54" height="19.9" fill="#98cfcb" stroke="#3a3a3a" stroke-width="2.5"/>
<line x1="419.09" x2="464.17" y1="1439.9" y2="1439.9" stroke="#3a3a3a" stroke-width="2.5" stroke-linecap="square"/>
<line x1="419.09" x2="464.17" y1="1439.9" y2="1439.9" stroke="#262626" stroke-opacity="0.45" stroke-width="2.5"/>
<path d="M497.99 1394.8L503.09 1403.4L497.99 1412L492.89 1403.4ZM497.99 1401.2L503.09 1409.8L497.99 1418.4L492.89 1409.8Z" fill="#424242" stroke="#424242" stroke-width="1.6" stroke-linejoin="round"/>
<rect x="492.35" y="1416.2" width="11.27" height="23.7" fill="#e5f2f5" stroke="#3a3a3a" stroke-width="2.5"/>
<rect x="486.72" y="1417.7" width="22.54" height="22.2" fill="#9acfd8" stroke="#3a3a3a" stroke-width="2.5"/>
<rect x="475.44" y="1431.8" width="45.09" height="8.1" fill="#4fabbc" stroke="#3a3a3a" stroke-width="2.5"/>
<line x1="475.44" x2="520.53" y1="1439.9" y2="1439.9" stroke="#262626" stroke-opacity="0.45" stroke-width="2.5"/>
<path d="M554.35 1370.5L559.45 1379.1L554.35 1387.7L549.25 1379.1ZM554.35 1376.9L559.45 1385.5L554.35 1394.1L549.25 1385.5ZM554.35 1382L559.45 1390.6L554.35 1399.2L549.25 1390.6Z" fill="#424242" stroke="#424242" stroke-width="1.6" stroke-linejoin="round"/>
<rect x="548.71" y="1393.8" width="11.27" height="46.1" fill="#e9f3fb" stroke="#3a3a3a" stroke-width="2.5"/>
<rect x="543.07" y="1401.5" width="22.54" height="38.4" fill="#abd0ee" stroke="#3a3a3a" stroke-width="2.5"/>
<rect x="531.8" y="1413" width="45.09" height="26.9" fill="#6daee2" stroke="#3a3a3a" stroke-width="2.5"/>
<line x1="531.8" x2="576.89" y1="1439.9" y2="1439.9" stroke="#262626" stroke-opacity="0.45" stroke-width="2.5"/>
<path d="M610.7 1396.5L615.8 1405.1L610.7 1413.7L605.6 1405.1ZM610.7 1403.2L615.8 1411.8L610.7 1420.4L605.6 1411.8Z" fill="#424242" stroke="#424242" stroke-width="1.6" stroke-linejoin="round"/>
<rect x="605.07" y="1420.5" width="11.27" height="19.4" fill="#f4f2fc" stroke="#3a3a3a" stroke-width="2.5"/>
<line x1="599.43" x2="621.98" y1="1439.9" y2="1439.9" stroke="#3a3a3a" stroke-width="2.5" stroke-linecap="square"/>
<line x1="588.16" x2="633.25" y1="1439.9" y2="1439.9" stroke="#3a3a3a" stroke-width="2.5" stroke-linecap="square"/>
<line x1="588.16" x2="633.25" y1="1439.9" y2="1439.9" stroke="#262626" stroke-opacity="0.45" stroke-width="2.5"/>
<path d="M667.06 1325.4L672.16 1334L667.06 1342.6L661.96 1334ZM667.06 1338.8L672.16 1347.4L667.06 1356L661.96 1347.4ZM667.06 1349.5L672.16 1358.1L667.06 1366.7L661.96 1358.1ZM667.06 1358.9L672.16 1367.5L667.06 1376.1L661.96 1367.5ZM667.06 1367L672.16 1375.6L667.06 1384.2L661.96 1375.6Z" fill="#424242" stroke="#424242" stroke-width="1.6" stroke-linejoin="round"/>
<rect x="661.43" y="1383" width="11.27" height="56.9" fill="#faeefb" stroke="#3a3a3a" stroke-width="2.5"/>
<rect x="655.79" y="1390.6" width="22.54" height="49.3" fill="#edbff1" stroke="#3a3a3a" stroke-width="2.5"/>
<rect x="644.52" y="1403.8" width="45.09" height="23.4" fill="#df8fe7" stroke="#3a3a3a" stroke-width="2.5"/>
<line x1="644.52" x2="689.61" y1="1419.2" y2="1419.2" stroke="#262626" stroke-opacity="0.45" stroke-width="2.5"/>
<path d="M723.42 1260.3L728.52 1268.9L723.42 1277.5L718.32 1268.9ZM723.42 1277L728.52 1285.6L723.42 1294.2L718.32 1285.6ZM723.42 1286.4L728.52 1295L723.42 1303.6L718.32 1295ZM723.42 1296.4L728.52 1305L723.42 1313.6L718.32 1305ZM723.42 1303.9L728.52 1312.5L723.42 1321.1L718.32 1312.5ZM723.42 1307.2L728.52 1315.8L723.42 1324.4L718.32 1315.8ZM723.42 1320L728.52 1328.6L723.42 1337.2L718.32 1328.6ZM723.42 1396.5L728.52 1405.1L723.42 1413.7L718.32 1405.1ZM723.42 1404.6L728.52 1413.2L723.42 1421.8L718.32 1413.2ZM723.42 1411.3L728.52 1419.9L723.42 1428.5L718.32 1419.9Z" fill="#424242" stroke="#424242" stroke-width="1.6" stroke-linejoin="round"/>
<rect x="717.78" y="1338.7" width="11.27" height="58.3" fill="#fceef6" stroke="#3a3a3a" stroke-width="2.5"/>
<rect x="712.15" y="1349" width="22.54" height="42" fill="#f2bfde" stroke="#3a3a3a" stroke-width="2.5"/>
<rect x="700.88" y="1359.9" width="45.09" height="29.1" fill="#e890c6" stroke="#3a3a3a" stroke-width="2.5"/>
<line x1="700.88" x2="745.96" y1="1378.3" y2="1378.3" stroke="#262626" stroke-opacity="0.45" stroke-width="2.5"/>
<line x1="75.3" y1="948.2" x2="75.3" y2="1462.9" class="sp"/>
<line x1="74.5" y1="1462.9" x2="752.4" y2="1462.9" class="sp"/>
<line x1="68.2" x2="75.3" y1="1439.9" y2="1439.9" class="sp"/>
<text x="60.9" y="1448.3" text-anchor="end" class="t">0.0</text>
<line x1="68.2" x2="75.3" y1="1378.7" y2="1378.7" class="sp"/>
<text x="60.9" y="1387.1" text-anchor="end" class="t">0.1</text>
<line x1="68.2" x2="75.3" y1="1317.5" y2="1317.5" class="sp"/>
<text x="60.9" y="1325.9" text-anchor="end" class="t">0.2</text>
<line x1="68.2" x2="75.3" y1="1256.3" y2="1256.3" class="sp"/>
<text x="60.9" y="1264.7" text-anchor="end" class="t">0.3</text>
<line x1="68.2" x2="75.3" y1="1195.1" y2="1195.1" class="sp"/>
<text x="60.9" y="1203.5" text-anchor="end" class="t">0.4</text>
<line x1="68.2" x2="75.3" y1="1133.9" y2="1133.9" class="sp"/>
<text x="60.9" y="1142.3" text-anchor="end" class="t">0.5</text>
<line x1="68.2" x2="75.3" y1="1072.7" y2="1072.7" class="sp"/>
<text x="60.9" y="1081.1" text-anchor="end" class="t">0.6</text>
<line x1="68.2" x2="75.3" y1="1011.5" y2="1011.5" class="sp"/>
<text x="60.9" y="1019.9" text-anchor="end" class="t">0.7</text>
<line x1="68.2" x2="75.3" y1="950.3" y2="950.3" class="sp"/>
<text x="60.9" y="958.7" text-anchor="end" class="t">0.8</text>
<line x1="103.48" x2="103.48" y1="1462.9" y2="1470" class="sp"/>
<text transform="translate(102.18 1504.5) rotate(-45)" x="0" y="7.45" text-anchor="middle" class="t">C &gt; G</text>
<line x1="159.84" x2="159.84" y1="1462.9" y2="1470" class="sp"/>
<text transform="translate(158.54 1504.5) rotate(-45)" x="0" y="7.45" text-anchor="middle" class="t">C &gt; A</text>
<line x1="216.2" x2="216.2" y1="1462.9" y2="1470" class="sp"/>
<text transform="translate(214.9 1504.5) rotate(-45)" x="0" y="7.45" text-anchor="middle" class="t">G &gt; U</text>
<line x1="272.55" x2="272.55" y1="1462.9" y2="1470" class="sp"/>
<text transform="translate(271.25 1504.5) rotate(-45)" x="0" y="7.45" text-anchor="middle" class="t">U &gt; A</text>
<line x1="328.91" x2="328.91" y1="1462.9" y2="1470" class="sp"/>
<text transform="translate(327.61 1504.5) rotate(-45)" x="0" y="7.45" text-anchor="middle" class="t">C &gt; U</text>
<line x1="385.27" x2="385.27" y1="1462.9" y2="1470" class="sp"/>
<text transform="translate(383.97 1504.5) rotate(-45)" x="0" y="7.45" text-anchor="middle" class="t">A &gt; U</text>
<line x1="441.63" x2="441.63" y1="1462.9" y2="1470" class="sp"/>
<text transform="translate(440.33 1504.5) rotate(-45)" x="0" y="7.45" text-anchor="middle" class="t">U &gt; G</text>
<line x1="497.99" x2="497.99" y1="1462.9" y2="1470" class="sp"/>
<text transform="translate(496.69 1504.5) rotate(-45)" x="0" y="7.45" text-anchor="middle" class="t">A &gt; C</text>
<line x1="554.35" x2="554.35" y1="1462.9" y2="1470" class="sp"/>
<text transform="translate(553.05 1504.5) rotate(-45)" x="0" y="7.45" text-anchor="middle" class="t">U &gt; C</text>
<line x1="610.7" x2="610.7" y1="1462.9" y2="1470" class="sp"/>
<text transform="translate(609.4 1504.5) rotate(-45)" x="0" y="7.45" text-anchor="middle" class="t">G &gt; C</text>
<line x1="667.06" x2="667.06" y1="1462.9" y2="1470" class="sp"/>
<text transform="translate(665.76 1504.5) rotate(-45)" x="0" y="7.45" text-anchor="middle" class="t">G &gt; A</text>
<line x1="723.42" x2="723.42" y1="1462.9" y2="1470" class="sp"/>
<text transform="translate(722.12 1504.5) rotate(-45)" x="0" y="7.45" text-anchor="middle" class="t">A &gt; G</text>
<text x="1119.25" y="936.7" text-anchor="middle" class="t">Host = Human</text>
<text x="1119.25" y="1558.3" text-anchor="middle" class="t">Spectrum Component</text>
<path d="M809.28 1351L814.38 1359.6L809.28 1368.2L804.18 1359.6ZM809.28 1363.1L814.38 1371.7L809.28 1380.3L804.18 1371.7ZM809.28 1378.6L814.38 1387.2L809.28 1395.8L804.18 1387.2ZM809.28 1385.5L814.38 1394.1L809.28 1402.7L804.18 1394.1ZM809.28 1390.7L814.38 1399.3L809.28 1407.9L804.18 1399.3Z" fill="#424242" stroke="#424242" stroke-width="1.6" stroke-linejoin="round"/>
<rect x="807.87" y="1405" width="2.82" height="34.9" fill="#fceff1" stroke="#3a3a3a" stroke-width="2.5"/>
<rect x="806.46" y="1405.5" width="5.64" height="34.4" fill="#f7d9de" stroke="#3a3a3a" stroke-width="2.5"/>
<rect x="803.64" y="1406.6" width="11.27" height="33.3" fill="#f3c3ca" stroke="#3a3a3a" stroke-width="2.5"/>
<rect x="798.01" y="1410" width="22.54" height="29.9" fill="#eeacb7" stroke="#3a3a3a" stroke-width="2.5"/>
<rect x="786.74" y="1421.4" width="45.09" height="18.5" fill="#ea96a3" stroke="#3a3a3a" stroke-width="2.5"/>
<line x1="786.74" x2="831.82" y1="1439.9" y2="1439.9" stroke="#262626" stroke-opacity="0.45" stroke-width="2.5"/>
<path d="M865.64 1343.2L870.74 1351.8L865.64 1360.4L860.54 1351.8ZM865.64 1351L870.74 1359.6L865.64 1368.2L860.54 1359.6ZM865.64 1357.9L870.74 1366.5L865.64 1375.1L860.54 1366.5ZM865.64 1364.8L870.74 1373.4L865.64 1382L860.54 1373.4Z" fill="#424242" stroke="#424242" stroke-width="1.6" stroke-linejoin="round"/>
<rect x="864.23" y="1375" width="2.82" height="64.9" fill="#faeee5" stroke="#3a3a3a" stroke-width="2.5"/>
<rect x="862.82" y="1379.4" width="5.64" height="60.5" fill="#f4d7c1" stroke="#3a3a3a" stroke-width="2.5"/>
<rect x="860" y="1395.5" width="11.27" height="44.4" fill="#eec09c" stroke="#3a3a3a" stroke-width="2.5"/>
<rect x="854.37" y="1404" width="22.54" height="35.9" fill="#e7a878" stroke="#3a3a3a" stroke-width="2.5"/>
<rect x="843.09" y="1413.1" width="45.09" height="26.8" fill="#e19153" stroke="#3a3a3a" stroke-width="2.5"/>
<line x1="843.09" x2="888.18" y1="1425.2" y2="1425.2" stroke="#262626" stroke-opacity="0.45" stroke-width="2.5"/>
<path d="M922 1193L927.1 1201.6L922 1210.2L916.9 1201.6ZM922 1205.9L927.1 1214.5L922 1223.1L916.9 1214.5ZM922 1214.6L927.1 1223.2L922 1231.8L916.9 1223.2ZM922 1223.2L927.1 1231.8L922 1240.4L916.9 1231.8ZM922 1233.6L927.1 1242.2L922 1250.8L916.9 1242.2Z" fill="#424242" stroke="#424242" stroke-width="1.6" stroke-linejoin="round"/>
<rect x="920.59" y="1249" width="2.82" height="190.9" fill="#f4f0e4" stroke="#3a3a3a" stroke-width="2.5"/>
<rect x="919.18" y="1262.5" width="5.64" height="161" fill="#e5dbbd" stroke="#3a3a3a" stroke-width="2.5"/>
<rect x="916.36" y="1279.8" width="11.27" height="130.7" fill="#d6c696" stroke="#3a3a3a" stroke-width="2.5"/>
<rect x="910.72" y="1300.5" width="22.54" height="100.5" fill="#c7b170" stroke="#3a3a3a" stroke-width="2.5"/>
<rect x="899.45" y="1321.9" width="45.09" height="57.5" fill="#b89c49" stroke="#3a3a3a" stroke-width="2.5"/>
<line x1="899.45" x2="944.54" y1="1354.8" y2="1354.8" stroke="#262626" stroke-opacity="0.45" stroke-width="2.5"/>
<path d="M978.35 1349.3L983.45 1357.9L978.35 1366.5L973.25 1357.9ZM978.35 1361.4L983.45 1370L978.35 1378.6L973.25 1370ZM978.35 1371.7L983.45 1380.3L978.35 1388.9L973.25 1380.3ZM978.35 1382.1L983.45 1390.7L978.35 1399.3L973.25 1390.7ZM978.35 1389L983.45 1397.6L978.35 1406.2L973.25 1397.6Z" fill="#424242" stroke="#424242" stroke-width="1.6" stroke-linejoin="round"/>
<rect x="976.95" y="1400" width="2.82" height="39.9" fill="#f0f1e3" stroke="#3a3a3a" stroke-width="2.5"/>
<rect x="975.54" y="1404.5" width="5.64" height="35.4" fill="#daddbc" stroke="#3a3a3a" stroke-width="2.5"/>
<rect x="972.72" y="1411" width="11.27" height="28.9" fill="#c4ca95" stroke="#3a3a3a" stroke-width="2.5"/>
<rect x="967.08" y="1418.3" width="22.54" height="21.6" fill="#aeb66d" stroke="#3a3a3a" stroke-width="2.5"/>
<line x1="955.81" x2="1000.9" y1="1439.9" y2="1439.9" stroke="#3a3a3a" stroke-width="2.5" stroke-linecap="square"/>
<line x1="955.81" x2="1000.9" y1="1439.9" y2="1439.9" stroke="#262626" stroke-opacity="0.45" stroke-width="2.5"/>
<path d="M1034.71 990.8L1039.81 999.4L1034.71 1008L1029.61 999.4ZM1034.71 1004.1L1039.81 1012.7L1034.71 1021.3L1029.61 1012.7ZM1034.71 1012.3L1039.81 1020.9L1034.71 1029.5L1029.61 1020.9ZM1034.71 1260.1L1039.81 1268.7L1034.71 1277.3L1029.61 1268.7ZM1034.71 1267.4L1039.81 1276L1034.71 1284.6L1029.61 1276ZM1034.71 1278.4L1039.81 1287L1034.71 1295.6L1029.61 1287ZM1034.71 1287.5L1039.81 1296.1L1034.71 1304.7L1029.61 1296.1ZM1034.71 1318.4L1039.81 1327L1034.71 1335.6L1029.61 1327ZM1034.71 1323.4L1039.81 1332L1034.71 1340.6L1029.61 1332ZM1034.71 1328.3L1039.81 1336.9L1034.71 1345.5L1029.61 1336.9ZM1034.71 1371.8L1039.81 1380.4L1034.71 1389L1029.61 1380.4Z" fill="#424242" stroke="#424242" stroke-width="1.6" stroke-linejoin="round"/>
<rect x="1033.3" y="1027" width="2.82" height="236.7" fill="#e7f3e3" stroke="#3a3a3a" stroke-width="2.5"/>
<rect x="1031.89" y="1042.4" width="5.64" height="210.8" fill="#c5e2bc" stroke="#3a3a3a" stroke-width="2.5"/>
<rect x="1029.08" y="1054.7" width="11.27" height="181.8" fill="#a4d095" stroke="#3a3a3a" stroke-width="2.5"/>
<rect x="1023.44" y="1078.2" width="22.54" height="146.3" fill="#82bf6e" stroke="#3a3a3a" stroke-width="2.5"/>
<rect x="1012.17" y="1117.5" width="45.09" height="83.1" fill="#60ae47" stroke="#3a3a3a" stroke-width="2.5"/>
<line x1="1012.17" x2="1057.26" y1="1167.2" y2="1167.2" stroke="#262626" stroke-opacity="0.45" stroke-width="2.5"/>
<path d="M1091.07 1332.5L1096.17 1341.1L1091.07 1349.7L1085.97 1341.1ZM1091.07 1342.4L1096.17 1351L1091.07 1359.6L1085.97 1351ZM1091.07 1352.2L1096.17 1360.8L1091.07 1369.4L1085.97 1360.8ZM1091.07 1359.3L1096.17 1367.9L1091.07 1376.5L1085.97 1367.9Z" fill="#424242" stroke="#424242" stroke-width="1.6" stroke-linejoin="round"/>
<rect x="1089.66" y="1372" width="2.82" height="67.9" fill="#e4f3ed" stroke="#3a3a3a" stroke-width="2.5"/>
<rect x="1088.25" y="1387.5" width="5.64" height="52.4" fill="#bde2d5" stroke="#3a3a3a" stroke-width="2.5"/>
<rect x="1085.43" y="1401.3" width="11.27" height="38.6" fill="#97d0bc" stroke="#3a3a3a" stroke-width="2.5"/>
<rect x="1079.8" y="1407.5" width="22.54" height="32.4" fill="#70bfa3" stroke="#3a3a3a" stroke-width="2.5"/>
<rect x="1068.53" y="1418.5" width="45.09" height="21.4" fill="#4aae8a" stroke="#3a3a3a" stroke-width="2.5"/>
<line x1="1068.53" x2="1113.61" y1="1439.9" y2="1439.9" stroke="#262626" stroke-opacity="0.45" stroke-width="2.5"/>
<path d="M1147.43 1353.6L1152.53 1362.2L1147.43 1370.8L1142.33 1362.2ZM1147.43 1367.7L1152.53 1376.3L1147.43 1384.9L1142.33 1376.3Z" fill="#424242" stroke="#424242" stroke-width="1.6" stroke-linejoin="round"/>
<rect x="1146.02" y="1382" width="2.82" height="57.9" fill="#e4f2f1" stroke="#3a3a3a" stroke-width="2.5"/>
<rect x="1144.61" y="1400.9" width="5.64" height="39" fill="#bee1de" stroke="#3a3a3a" stroke-width="2.5"/>
<rect x="1141.79" y="1405.5" width="11.27" height="34.4" fill="#98cfcb" stroke="#3a3a3a" stroke-width="2.5"/>
<rect x="1136.16" y="1410.3" width="22.54" height="29.6" fill="#71bdb7" stroke="#3a3a3a" stroke-width="2.5"/>
<rect x="1124.89" y="1422" width="45.09" height="17.9" fill="#4baba4" stroke="#3a3a3a" stroke-width="2.5"/>
<line x1="1124.89" x2="1169.97" y1="1439.9" y2="1439.9" stroke="#262626" stroke-opacity="0.45" stroke-width="2.5"/>
<path d="M1203.79 1343.8L1208.89 1352.4L1203.79 1361L1198.69 1352.4ZM1203.79 1366.3L1208.89 1374.9L1203.79 1383.5L1198.69 1374.9ZM1203.79 1377.5L1208.89 1386.1L1203.79 1394.7L1198.69 1386.1ZM1203.79 1386L1208.89 1394.6L1203.79 1403.2L1198.69 1394.6Z" fill="#424242" stroke="#424242" stroke-width="1.6" stroke-linejoin="round"/>
<rect x="1202.38" y="1398" width="2.82" height="41.9" fill="#e5f2f5" stroke="#3a3a3a" stroke-width="2.5"/>
<rect x="1200.97" y="1402.3" width="5.64" height="37.6" fill="#bfe1e7" stroke="#3a3a3a" stroke-width="2.5"/>
<rect x="1198.15" y="1406.5" width="11.27" height="33.4" fill="#9acfd8" stroke="#3a3a3a" stroke-width="2.5"/>
<rect x="1192.52" y="1411.7" width="22.54" height="28.2" fill="#74bdca" stroke="#3a3a3a" stroke-width="2.5"/>
<rect x="1181.24" y="1424.8" width="45.09" height="15.1" fill="#4fabbc" stroke="#3a3a3a" stroke-width="2.5"/>
<line x1="1181.24" x2="1226.33" y1="1439.9" y2="1439.9" stroke="#262626" stroke-opacity="0.45" stroke-width="2.5"/>
<path d="M1260.15 1168.1L1265.25 1176.7L1260.15 1185.3L1255.05 1176.7ZM1260.15 1283.3L1265.25 1291.9L1260.15 1300.5L1255.05 1291.9ZM1260.15 1294.5L1265.25 1303.1L1260.15 1311.7L1255.05 1303.1ZM1260.15 1304.4L1265.25 1313L1260.15 1321.6L1255.05 1313ZM1260.15 1312.8L1265.25 1321.4L1260.15 1330L1255.05 1321.4ZM1260.15 1322.7L1265.25 1331.3L1260.15 1339.9L1255.05 1331.3Z" fill="#424242" stroke="#424242" stroke-width="1.6" stroke-linejoin="round"/>
<rect x="1258.74" y="1335" width="2.82" height="104.9" fill="#e9f3fb" stroke="#3a3a3a" stroke-width="2.5"/>
<rect x="1257.33" y="1341.1" width="5.64" height="98.8" fill="#cae2f4" stroke="#3a3a3a" stroke-width="2.5"/>
<rect x="1254.51" y="1352.7" width="11.27" height="87.2" fill="#abd0ee" stroke="#3a3a3a" stroke-width="2.5"/>
<rect x="1248.87" y="1365.3" width="22.54" height="74.6" fill="#8cbfe8" stroke="#3a3a3a" stroke-width="2.5"/>
<rect x="1237.6" y="1378.7" width="45.09" height="33.9" fill="#6daee2" stroke="#3a3a3a" stroke-width="2.5"/>
<line x1="1237.6" x2="1282.69" y1="1400.9" y2="1400.9" stroke="#262626" stroke-opacity="0.45" stroke-width="2.5"/>
<path d="M1316.5 1318.7L1321.6 1327.3L1316.5 1335.9L1311.4 1327.3ZM1316.5 1342.9L1321.6 1351.5L1316.5 1360.1L1311.4 1351.5ZM1316.5 1352.3L1321.6 1360.9L1316.5 1369.5L1311.4 1360.9ZM1316.5 1357.6L1321.6 1366.2L1316.5 1374.8L1311.4 1366.2Z" fill="#424242" stroke="#424242" stroke-width="1.6" stroke-linejoin="round"/>
<rect x="1315.1" y="1368" width="2.82" height="71.9" fill="#f4f2fc" stroke="#3a3a3a" stroke-width="2.5"/>
<rect x="1313.69" y="1372.3" width="5.64" height="67.6" fill="#e5dff8" stroke="#3a3a3a" stroke-width="2.5"/>
<rect x="1310.87" y="1381.7" width="11.27" height="58.2" fill="#d5cdf4" stroke="#3a3a3a" stroke-width="2.5"/>
<rect x="1305.23" y="1403.8" width="22.54" height="36.1" fill="#c6baef" stroke="#3a3a3a" stroke-width="2.5"/>
<rect x="1293.96" y="1411.9" width="45.09" height="28" fill="#b6a8eb" stroke="#3a3a3a" stroke-width="2.5"/>
<line x1="1293.96" x2="1339.05" y1="1439.9" y2="1439.9" stroke="#262626" stroke-opacity="0.45" stroke-width="2.5"/>
<path d="M1372.86 1251.1L1377.96 1259.7L1372.86 1268.3L1367.76 1259.7ZM1372.86 1265.5L1377.96 1274.1L1372.86 1282.7L1367.76 1274.1ZM1372.86 1274.7L1377.96 1283.3L1372.86 1291.9L1367.76 1283.3ZM1372.86 1283.8L1377.96 1292.4L1372.86 1301L1367.76 1292.4Z" fill="#424242" stroke="#424242" stroke-width="1.6" stroke-linejoin="round"/>
<rect x="1371.45" y="1303.6" width="2.82" height="136.3" fill="#faeefb" stroke="#3a3a3a" stroke-width="2.5"/>
<rect x="1370.04" y="1312.7" width="5.64" height="127.2" fill="#f3d6f6" stroke="#3a3a3a" stroke-width="2.5"/>
<rect x="1367.23" y="1331.7" width="11.27" height="108.2" fill="#edbff1" stroke="#3a3a3a" stroke-width="2.5"/>
<rect x="1361.59" y="1342.9" width="22.54" height="91.1" fill="#e6a7ec" stroke="#3a3a3a" stroke-width="2.5"/>
<rect x="1350.32" y="1361.2" width="45.09" height="46.6" fill="#df8fe7" stroke="#3a3a3a" stroke-width="2.5"/>
<line x1="1350.32" x2="1395.41" y1="1386.8" y2="1386.8" stroke="#262626" stroke-opacity="0.45" stroke-width="2.5"/>
<path d="M1429.22 1260.9L1434.32 1269.5L1429.22 1278.1L1424.12 1269.5ZM1429.22 1271.7L1434.32 1280.3L1429.22 1288.9L1424.12 1280.3ZM1429.22 1285.1L1434.32 1293.7L1429.22 1302.3L1424.12 1293.7ZM1429.22 1410L1434.32 1418.6L1429.22 1427.2L1424.12 1418.6ZM1429.22 1419.4L1434.32 1428L1429.22 1436.6L1424.12 1428ZM1429.22 1432.9L1434.32 1441.5L1429.22 1450.1L1424.12 1441.5Z" fill="#424242" stroke="#424242" stroke-width="1.6" stroke-linejoin="round"/>
<rect x="1427.81" y="1298" width="2.82" height="115" fill="#fceef6" stroke="#3a3a3a" stroke-width="2.5"/>
<rect x="1426.4" y="1305.8" width="5.64" height="104.1" fill="#f7d7ea" stroke="#3a3a3a" stroke-width="2.5"/>
<rect x="1423.59" y="1326" width="11.27" height="81.2" fill="#f2bfde" stroke="#3a3a3a" stroke-width="2.5"/>
<rect x="1417.95" y="1338" width="22.54" height="65.8" fill="#eda8d2" stroke="#3a3a3a" stroke-width="2.5"/>
<rect x="1406.68" y="1352.1" width="45.09" height="41" fill="#e890c6" stroke="#3a3a3a" stroke-width="2.5"/>
<line x1="1406.68" x2="1451.76" y1="1372.3" y2="1372.3" stroke="#262626" stroke-opacity="0.45" stroke-width="2.5"/>
<line x1="781.1" y1="948.2" x2="781.1" y2="1462.9" class="sp"/>
<line x1="780.3" y1="1462.9" x2="1458.2" y2="1462.9" class="sp"/>
<line x1="774" x2="781.1" y1="1439.9" y2="1439.9" class="sp"/>
<line x1="774" x2="781.1" y1="1378.7" y2="1378.7" class="sp"/>
<line x1="774" x2="781.1" y1="1317.5" y2="1317.5" class="sp"/>
<line x1="774" x2="781.1" y1="1256.3" y2="1256.3" class="sp"/>
<line x1="774" x2="781.1" y1="1195.1" y2="1195.1" class="sp"/>
<line x1="774" x2="781.1" y1="1133.9" y2="1133.9" class="sp"/>
<line x1="774" x2="781.1" y1="1072.7" y2="1072.7" class="sp"/>
<line x1="774" x2="781.1" y1="1011.5" y2="1011.5" class="sp"/>
<line x1="774" x2="781.1" y1="950.3" y2="950.3" class="sp"/>
<line x1="809.28" x2="809.28" y1="1462.9" y2="1470" class="sp"/>
<text transform="translate(807.98 1504.5) rotate(-45)" x="0" y="7.45" text-anchor="middle" class="t">C &gt; G</text>
<line x1="865.64" x2="865.64" y1="1462.9" y2="1470" class="sp"/>
<text transform="translate(864.34 1504.5) rotate(-45)" x="0" y="7.45" text-anchor="middle" class="t">C &gt; A</text>
<line x1="922" x2="922" y1="1462.9" y2="1470" class="sp"/>
<text transform="translate(920.7 1504.5) rotate(-45)" x="0" y="7.45" text-anchor="middle" class="t">G &gt; U</text>
<line x1="978.35" x2="978.35" y1="1462.9" y2="1470" class="sp"/>
<text transform="translate(977.05 1504.5) rotate(-45)" x="0" y="7.45" text-anchor="middle" class="t">U &gt; A</text>
<line x1="1034.71" x2="1034.71" y1="1462.9" y2="1470" class="sp"/>
<text transform="translate(1033.41 1504.5) rotate(-45)" x="0" y="7.45" text-anchor="middle" class="t">C &gt; U</text>
<line x1="1091.07" x2="1091.07" y1="1462.9" y2="1470" class="sp"/>
<text transform="translate(1089.77 1504.5) rotate(-45)" x="0" y="7.45" text-anchor="middle" class="t">A &gt; U</text>
<line x1="1147.43" x2="1147.43" y1="1462.9" y2="1470" class="sp"/>
<text transform="translate(1146.13 1504.5) rotate(-45)" x="0" y="7.45" text-anchor="middle" class="t">U &gt; G</text>
<line x1="1203.79" x2="1203.79" y1="1462.9" y2="1470" class="sp"/>
<text transform="translate(1202.49 1504.5) rotate(-45)" x="0" y="7.45" text-anchor="middle" class="t">A &gt; C</text>
<line x1="1260.15" x2="1260.15" y1="1462.9" y2="1470" class="sp"/>
<text transform="translate(1258.85 1504.5) rotate(-45)" x="0" y="7.45" text-anchor="middle" class="t">U &gt; C</text>
<line x1="1316.5" x2="1316.5" y1="1462.9" y2="1470" class="sp"/>
<text transform="translate(1315.2 1504.5) rotate(-45)" x="0" y="7.45" text-anchor="middle" class="t">G &gt; C</text>
<line x1="1372.86" x2="1372.86" y1="1462.9" y2="1470" class="sp"/>
<text transform="translate(1371.56 1504.5) rotate(-45)" x="0" y="7.45" text-anchor="middle" class="t">G &gt; A</text>
<line x1="1429.22" x2="1429.22" y1="1462.9" y2="1470" class="sp"/>
<text transform="translate(1427.92 1504.5) rotate(-45)" x="0" y="7.45" text-anchor="middle" class="t">A &gt; G</text>
<text x="1824.95" y="936.7" text-anchor="middle" class="t">Host = Mink</text>
<text x="1824.95" y="1558.3" text-anchor="middle" class="t">Spectrum Component</text>
<line x1="1509.34" x2="1520.61" y1="1439.9" y2="1439.9" stroke="#3a3a3a" stroke-width="2.5" stroke-linecap="square"/>
<line x1="1503.71" x2="1526.25" y1="1439.9" y2="1439.9" stroke="#3a3a3a" stroke-width="2.5" stroke-linecap="square"/>
<line x1="1492.44" x2="1537.52" y1="1439.9" y2="1439.9" stroke="#3a3a3a" stroke-width="2.5" stroke-linecap="square"/>
<line x1="1492.44" x2="1537.52" y1="1439.9" y2="1439.9" stroke="#262626" stroke-opacity="0.45" stroke-width="2.5"/>
<path d="M1571.34 1392L1576.44 1400.6L1571.34 1409.2L1566.24 1400.6ZM1571.34 1396.5L1576.44 1405.1L1571.34 1413.7L1566.24 1405.1Z" fill="#424242" stroke="#424242" stroke-width="1.6" stroke-linejoin="round"/>
<rect x="1565.7" y="1408.8" width="11.27" height="31.1" fill="#faeee5" stroke="#3a3a3a" stroke-width="2.5"/>
<rect x="1560.07" y="1434.8" width="22.54" height="5.1" fill="#eec09c" stroke="#3a3a3a" stroke-width="2.5"/>
<line x1="1548.79" x2="1593.88" y1="1439.9" y2="1439.9" stroke="#3a3a3a" stroke-width="2.5" stroke-linecap="square"/>
<line x1="1548.79" x2="1593.88" y1="1439.9" y2="1439.9" stroke="#262626" stroke-opacity="0.45" stroke-width="2.5"/>
<path d="M1627.7 1321.4L1632.8 1330L1627.7 1338.6L1622.6 1330ZM1627.7 1328.9L1632.8 1337.5L1627.7 1346.1L1622.6 1337.5ZM1627.7 1377L1632.8 1385.6L1627.7 1394.2L1622.6 1385.6ZM1627.7 1431L1632.8 1439.6L1627.7 1448.2L1622.6 1439.6Z" fill="#424242" stroke="#424242" stroke-width="1.6" stroke-linejoin="round"/>
<rect x="1622.06" y="1343.6" width="11.27" height="35.2" fill="#f4f0e4" stroke="#3a3a3a" stroke-width="2.5"/>
<rect x="1616.42" y="1360.8" width="22.54" height="18" fill="#d6c696" stroke="#3a3a3a" stroke-width="2.5"/>
<rect x="1605.15" y="1363.4" width="45.09" height="15.4" fill="#b89c49" stroke="#3a3a3a" stroke-width="2.5"/>
<line x1="1605.15" x2="1650.24" y1="1378.8" y2="1378.8" stroke="#262626" stroke-opacity="0.45" stroke-width="2.5"/>
<path d="M1684.05 1392.9L1689.15 1401.5L1684.05 1410.1L1678.95 1401.5ZM1684.05 1398.4L1689.15 1407L1684.05 1415.6L1678.95 1407ZM1684.05 1404.4L1689.15 1413L1684.05 1421.6L1678.95 1413Z" fill="#424242" stroke="#424242" stroke-width="1.6" stroke-linejoin="round"/>
<rect x="1678.42" y="1419.4" width="11.27" height="20.5" fill="#f0f1e3" stroke="#3a3a3a" stroke-width="2.5"/>
<rect x="1672.78" y="1419.4" width="22.54" height="20.5" fill="#c4ca95" stroke="#3a3a3a" stroke-width="2.5"/>
<rect x="1661.51" y="1419.4" width="45.09" height="20.5" fill="#98a246" stroke="#3a3a3a" stroke-width="2.5"/>
<line x1="1661.51" x2="1706.6" y1="1439.9" y2="1439.9" stroke="#262626" stroke-opacity="0.45" stroke-width="2.5"/>
<path d="M1740.41 1035.6L1745.51 1044.2L1740.41 1052.8L1735.31 1044.2ZM1740.41 1057.4L1745.51 1066L1740.41 1074.6L1735.31 1066ZM1740.41 1077.6L1745.51 1086.2L1740.41 1094.8L1735.31 1086.2ZM1740.41 1171.4L1745.51 1180L1740.41 1188.6L1735.31 1180ZM1740.41 1179.5L1745.51 1188.1L1740.41 1196.7L1735.31 1188.1Z" fill="#424242" stroke="#424242" stroke-width="1.6" stroke-linejoin="round"/>
<rect x="1734.78" y="1096" width="11.27" height="75.9" fill="#e7f3e3" stroke="#3a3a3a" stroke-width="2.5"/>
<rect x="1729.14" y="1115.5" width="22.54" height="36.9" fill="#a4d095" stroke="#3a3a3a" stroke-width="2.5"/>
<line x1="1717.87" x2="1762.96" y1="1134.1" y2="1134.1" stroke="#3a3a3a" stroke-width="2.5" stroke-linecap="square"/>
<line x1="1717.87" x2="1762.96" y1="1134.1" y2="1134.1" stroke="#262626" stroke-opacity="0.45" stroke-width="2.5"/>
<path d="M1796.77 1393.2L1801.87 1401.8L1796.77 1410.4L1791.67 1401.8Z" fill="#424242" stroke="#424242" stroke-width="1.6" stroke-linejoin="round"/>
<line x1="1791.13" x2="1802.41" y1="1439.9" y2="1439.9" stroke="#3a3a3a" stroke-width="2.5" stroke-linecap="square"/>
<line x1="1785.5" x2="1808.04" y1="1439.9" y2="1439.9" stroke="#3a3a3a" stroke-width="2.5" stroke-linecap="square"/>
<line x1="1774.23" x2="1819.31" y1="1439.9" y2="1439.9" stroke="#3a3a3a" stroke-width="2.5" stroke-linecap="square"/>
<line x1="1774.23" x2="1819.31" y1="1439.9" y2="1439.9" stroke="#262626" stroke-opacity="0.45" stroke-width="2.5"/>
<path d="M1853.13 1352.1L1858.23 1360.7L1853.13 1369.3L1848.03 1360.7ZM1853.13 1366.7L1858.23 1375.3L1853.13 1383.9L1848.03 1375.3Z" fill="#424242" stroke="#424242" stroke-width="1.6" stroke-linejoin="round"/>
<rect x="1847.49" y="1378.6" width="11.27" height="61.3" fill="#e4f2f1" stroke="#3a3a3a" stroke-width="2.5"/>
<rect x="1841.86" y="1378.6" width="22.54" height="61.3" fill="#98cfcb" stroke="#3a3a3a" stroke-width="2.5"/>
<rect x="1830.59" y="1378.6" width="45.09" height="61.3" fill="#4baba4" stroke="#3a3a3a" stroke-width="2.5"/>
<line x1="1830.59" x2="1875.67" y1="1382.7" y2="1382.7" stroke="#262626" stroke-opacity="0.45" stroke-width="2.5"/>
<path d="M1909.49 1354.5L1914.59 1363.1L1909.49 1371.7L1904.39 1363.1Z" fill="#424242" stroke="#424242" stroke-width="1.6" stroke-linejoin="round"/>
<rect x="1903.85" y="1401.4" width="11.27" height="38.5" fill="#e5f2f5" stroke="#3a3a3a" stroke-width="2.5"/>
<rect x="1898.22" y="1401.4" width="22.54" height="22" fill="#9acfd8" stroke="#3a3a3a" stroke-width="2.5"/>
<rect x="1886.94" y="1403.5" width="45.09" height="16.7" fill="#4fabbc" stroke="#3a3a3a" stroke-width="2.5"/>
<line x1="1886.94" x2="1932.03" y1="1403.5" y2="1403.5" stroke="#262626" stroke-opacity="0.45" stroke-width="2.5"/>
<path d="M1965.85 1324.3L1970.95 1332.9L1965.85 1341.5L1960.75 1332.9ZM1965.85 1339L1970.95 1347.6L1965.85 1356.2L1960.75 1347.6ZM1965.85 1348.8L1970.95 1357.4L1965.85 1366L1960.75 1357.4ZM1965.85 1412.4L1970.95 1421L1965.85 1429.6L1960.75 1421ZM1965.85 1431.1L1970.95 1439.7L1965.85 1448.3L1960.75 1439.7Z" fill="#424242" stroke="#424242" stroke-width="1.6" stroke-linejoin="round"/>
<rect x="1960.21" y="1364.7" width="11.27" height="55.5" fill="#e9f3fb" stroke="#3a3a3a" stroke-width="2.5"/>
<rect x="1954.57" y="1374.5" width="22.54" height="45.7" fill="#abd0ee" stroke="#3a3a3a" stroke-width="2.5"/>
<rect x="1943.3" y="1401.4" width="45.09" height="18.8" fill="#6daee2" stroke="#3a3a3a" stroke-width="2.5"/>
<line x1="1943.3" x2="1988.39" y1="1420.2" y2="1420.2" stroke="#262626" stroke-opacity="0.45" stroke-width="2.5"/>
<path d="M2022.2 1392L2027.3 1400.6L2022.2 1409.2L2017.1 1400.6ZM2022.2 1404.2L2027.3 1412.8L2022.2 1421.4L2017.1 1412.8Z" fill="#424242" stroke="#424242" stroke-width="1.6" stroke-linejoin="round"/>
<line x1="2016.57" x2="2027.84" y1="1439.9" y2="1439.9" stroke="#3a3a3a" stroke-width="2.5" stroke-linecap="square"/>
<line x1="2010.93" x2="2033.48" y1="1439.9" y2="1439.9" stroke="#3a3a3a" stroke-width="2.5" stroke-linecap="square"/>
<line x1="1999.66" x2="2044.75" y1="1439.9" y2="1439.9" stroke="#3a3a3a" stroke-width="2.5" stroke-linecap="square"/>
<line x1="1999.66" x2="2044.75" y1="1439.9" y2="1439.9" stroke="#262626" stroke-opacity="0.45" stroke-width="2.5"/>
<path d="M2078.56 1316.2L2083.66 1324.8L2078.56 1333.4L2073.46 1324.8ZM2078.56 1330.9L2083.66 1339.5L2078.56 1348.1L2073.46 1339.5ZM2078.56 1337.4L2083.66 1346L2078.56 1354.6L2073.46 1346ZM2078.56 1343.9L2083.66 1352.5L2078.56 1361.1L2073.46 1352.5ZM2078.56 1431.1L2083.66 1439.7L2078.56 1448.3L2073.46 1439.7Z" fill="#424242" stroke="#424242" stroke-width="1.6" stroke-linejoin="round"/>
<rect x="2072.93" y="1358.2" width="11.27" height="48.9" fill="#faeefb" stroke="#3a3a3a" stroke-width="2.5"/>
<rect x="2067.29" y="1358.2" width="22.54" height="46.5" fill="#edbff1" stroke="#3a3a3a" stroke-width="2.5"/>
<rect x="2056.02" y="1358.2" width="45.09" height="43.2" fill="#df8fe7" stroke="#3a3a3a" stroke-width="2.5"/>
<line x1="2056.02" x2="2101.11" y1="1359.8" y2="1359.8" stroke="#262626" stroke-opacity="0.45" stroke-width="2.5"/>
<path d="M2134.92 1269.7L2140.02 1278.3L2134.92 1286.9L2129.82 1278.3ZM2134.92 1278.7L2140.02 1287.3L2134.92 1295.9L2129.82 1287.3ZM2134.92 1302.3L2140.02 1310.9L2134.92 1319.5L2129.82 1310.9ZM2134.92 1401L2140.02 1409.6L2134.92 1418.2L2129.82 1409.6ZM2134.92 1410.8L2140.02 1419.4L2134.92 1428L2129.82 1419.4Z" fill="#424242" stroke="#424242" stroke-width="1.6" stroke-linejoin="round"/>
<rect x="2129.28" y="1324.8" width="11.27" height="76.2" fill="#fceef6" stroke="#3a3a3a" stroke-width="2.5"/>
<rect x="2123.65" y="1324.8" width="22.54" height="76.2" fill="#f2bfde" stroke="#3a3a3a" stroke-width="2.5"/>
<rect x="2112.38" y="1332.1" width="45.09" height="66.9" fill="#e890c6" stroke="#3a3a3a" stroke-width="2.5"/>
<line x1="2112.38" x2="2157.46" y1="1399" y2="1399" stroke="#262626" stroke-opacity="0.45" stroke-width="2.5"/>
<line x1="1486.8" y1="948.2" x2="1486.8" y2="1462.9" class="sp"/>
<line x1="1486" y1="1462.9" x2="2163.9" y2="1462.9" class="sp"/>
<line x1="1479.7" x2="1486.8" y1="1439.9" y2="1439.9" class="sp"/>
<line x1="1479.7" x2="1486.8" y1="1378.7" y2="1378.7" class="sp"/>
<line x1="1479.7" x2="1486.8" y1="1317.5" y2="1317.5" class="sp"/>
<line x1="1479.7" x2="1486.8" y1="1256.3" y2="1256.3" class="sp"/>
<line x1="1479.7" x2="1486.8" y1="1195.1" y2="1195.1" class="sp"/>
<line x1="1479.7" x2="1486.8" y1="1133.9" y2="1133.9" class="sp"/>
<line x1="1479.7" x2="1486.8" y1="1072.7" y2="1072.7" class="sp"/>
<line x1="1479.7" x2="1486.8" y1="1011.5" y2="1011.5" class="sp"/>
<line x1="1479.7" x2="1486.8" y1="950.3" y2="950.3" class="sp"/>
<line x1="1514.98" x2="1514.98" y1="1462.9" y2="1470" class="sp"/>
<text transform="translate(1513.68 1504.5) rotate(-45)" x="0" y="7.45" text-anchor="middle" class="t">C &gt; G</text>
<line x1="1571.34" x2="1571.34" y1="1462.9" y2="1470" class="sp"/>
<text transform="translate(1570.04 1504.5) rotate(-45)" x="0" y="7.45" text-anchor="middle" class="t">C &gt; A</text>
<line x1="1627.7" x2="1627.7" y1="1462.9" y2="1470" class="sp"/>
<text transform="translate(1626.4 1504.5) rotate(-45)" x="0" y="7.45" text-anchor="middle" class="t">G &gt; U</text>
<line x1="1684.05" x2="1684.05" y1="1462.9" y2="1470" class="sp"/>
<text transform="translate(1682.75 1504.5) rotate(-45)" x="0" y="7.45" text-anchor="middle" class="t">U &gt; A</text>
<line x1="1740.41" x2="1740.41" y1="1462.9" y2="1470" class="sp"/>
<text transform="translate(1739.11 1504.5) rotate(-45)" x="0" y="7.45" text-anchor="middle" class="t">C &gt; U</text>
<line x1="1796.77" x2="1796.77" y1="1462.9" y2="1470" class="sp"/>
<text transform="translate(1795.47 1504.5) rotate(-45)" x="0" y="7.45" text-anchor="middle" class="t">A &gt; U</text>
<line x1="1853.13" x2="1853.13" y1="1462.9" y2="1470" class="sp"/>
<text transform="translate(1851.83 1504.5) rotate(-45)" x="0" y="7.45" text-anchor="middle" class="t">U &gt; G</text>
<line x1="1909.49" x2="1909.49" y1="1462.9" y2="1470" class="sp"/>
<text transform="translate(1908.19 1504.5) rotate(-45)" x="0" y="7.45" text-anchor="middle" class="t">A &gt; C</text>
<line x1="1965.85" x2="1965.85" y1="1462.9" y2="1470" class="sp"/>
<text transform="translate(1964.55 1504.5) rotate(-45)" x="0" y="7.45" text-anchor="middle" class="t">U &gt; C</text>
<line x1="2022.2" x2="2022.2" y1="1462.9" y2="1470" class="sp"/>
<text transform="translate(2020.9 1504.5) rotate(-45)" x="0" y="7.45" text-anchor="middle" class="t">G &gt; C</text>
<line x1="2078.56" x2="2078.56" y1="1462.9" y2="1470" class="sp"/>
<text transform="translate(2077.26 1504.5) rotate(-45)" x="0" y="7.45" text-anchor="middle" class="t">G &gt; A</text>
<line x1="2134.92" x2="2134.92" y1="1462.9" y2="1470" class="sp"/>
<text transform="translate(2133.62 1504.5) rotate(-45)" x="0" y="7.45" text-anchor="middle" class="t">A &gt; G</text>
</svg>
</body></html>
